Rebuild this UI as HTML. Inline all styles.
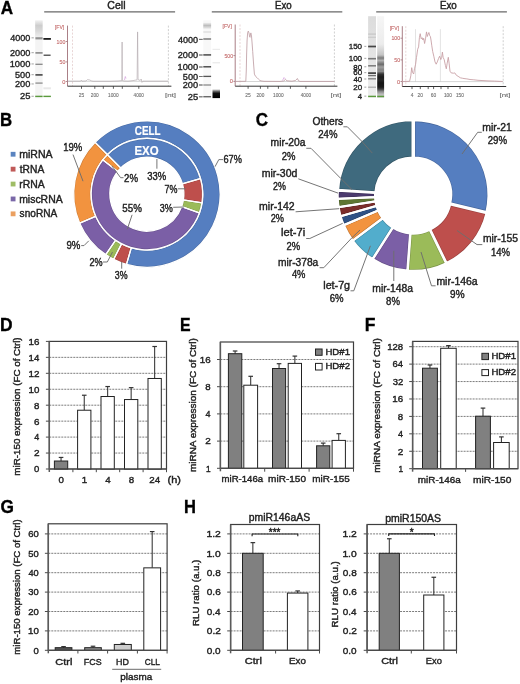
<!DOCTYPE html>
<html><head><meta charset="utf-8"><title>Figure</title>
<style>
html,body{margin:0;padding:0;background:#fff;overflow:hidden;}
svg{display:block;will-change:transform;}
text{font-family:"Liberation Sans", sans-serif;}
</style></head>
<body>
<svg width="520" height="684" viewBox="0 0 520 684">
<rect x="0" y="0" width="520" height="684" fill="#fff"/>
<text x="0.87" y="13.85" font-size="17.745" font-weight="bold" fill="#000" stroke="#000" stroke-width="0.35" textLength="12.34" lengthAdjust="spacingAndGlyphs">A</text>
<text x="-0.02" y="125.60" font-size="17.745" font-weight="bold" fill="#000" stroke="#000" stroke-width="0.35" textLength="12.12" lengthAdjust="spacingAndGlyphs">B</text>
<text x="255.67" y="125.82" font-size="18.375" font-weight="bold" fill="#000" stroke="#000" stroke-width="0.35" textLength="12.24" lengthAdjust="spacingAndGlyphs">C</text>
<text x="-0.06" y="330.70" font-size="18.036" font-weight="bold" fill="#000" stroke="#000" stroke-width="0.35" textLength="12.55" lengthAdjust="spacingAndGlyphs">D</text>
<text x="179.98" y="330.70" font-size="18.036" font-weight="bold" fill="#000" stroke="#000" stroke-width="0.35" textLength="10.60" lengthAdjust="spacingAndGlyphs">E</text>
<text x="364.67" y="330.70" font-size="18.036" font-weight="bold" fill="#000" stroke="#000" stroke-width="0.35" textLength="10.71" lengthAdjust="spacingAndGlyphs">F</text>
<text x="0.61" y="512.72" font-size="17.809" font-weight="bold" fill="#000" stroke="#000" stroke-width="0.35" textLength="13.43" lengthAdjust="spacingAndGlyphs">G</text>
<text x="184.04" y="512.90" font-size="18.036" font-weight="bold" fill="#000" stroke="#000" stroke-width="0.35" textLength="11.92" lengthAdjust="spacingAndGlyphs">H</text>
<text x="107.37" y="9.00" font-size="10.182" font-weight="normal" fill="#222" stroke="#222" stroke-width="0.4" textLength="18.14" lengthAdjust="spacingAndGlyphs">Cell</text>
<line x1="44.20" y1="11.80" x2="175.10" y2="11.80" stroke="#686868" stroke-width="1.3" />
<text x="275.00" y="9.00" font-size="10.182" font-weight="normal" fill="#222" stroke="#222" stroke-width="0.4" textLength="16.69" lengthAdjust="spacingAndGlyphs">Exo</text>
<line x1="211.80" y1="11.80" x2="342.30" y2="11.80" stroke="#686868" stroke-width="1.3" />
<text x="439.89" y="9.00" font-size="10.182" font-weight="normal" fill="#222" stroke="#222" stroke-width="0.4" textLength="16.91" lengthAdjust="spacingAndGlyphs">Exo</text>
<line x1="376.20" y1="11.80" x2="506.90" y2="11.80" stroke="#686868" stroke-width="1.3" />
<defs><linearGradient id="smear1" x1="0" y1="0" x2="0" y2="1"><stop offset="0" stop-color="#f0f0f0"/><stop offset="0.3" stop-color="#cdcdcd"/><stop offset="0.6" stop-color="#d8d8d8"/><stop offset="1" stop-color="#eeeeee"/></linearGradient><linearGradient id="blob2" x1="0" y1="0" x2="0" y2="1"><stop offset="0" stop-color="#e0e0e0"/><stop offset="0.25" stop-color="#606060"/><stop offset="0.45" stop-color="#101010"/><stop offset="1" stop-color="#000"/></linearGradient><linearGradient id="lane3" x1="0" y1="0" x2="0" y2="1"><stop offset="0" stop-color="#dcdcdc"/><stop offset="0.5" stop-color="#e4e4e4"/><stop offset="1" stop-color="#eeeeee"/></linearGradient><linearGradient id="smear3" x1="0" y1="0" x2="0" y2="1"><stop offset="0" stop-color="#c8c8c8"/><stop offset="0.3" stop-color="#8a8a8a"/><stop offset="0.5" stop-color="#262626"/><stop offset="0.85" stop-color="#141414"/><stop offset="1" stop-color="#606060"/></linearGradient><linearGradient id="top3" x1="0" y1="0" x2="0" y2="1"><stop offset="0" stop-color="#e6e6e6"/><stop offset="1" stop-color="#c4c4c4"/></linearGradient></defs>
<text x="10.20" y="40.95" font-size="9.018" font-weight="normal" fill="#222222" stroke="#222222" stroke-width="0.34" textLength="20.16" lengthAdjust="spacingAndGlyphs">4000</text>
<line x1="31.50" y1="37.85" x2="33.80" y2="37.85" stroke="#999" stroke-width="0.9" />
<text x="9.94" y="55.80" font-size="9.018" font-weight="normal" fill="#222222" stroke="#222222" stroke-width="0.34" textLength="20.42" lengthAdjust="spacingAndGlyphs">2000</text>
<line x1="31.50" y1="52.70" x2="33.80" y2="52.70" stroke="#999" stroke-width="0.9" />
<text x="9.70" y="67.05" font-size="9.018" font-weight="normal" fill="#222222" stroke="#222222" stroke-width="0.34" textLength="20.67" lengthAdjust="spacingAndGlyphs">1000</text>
<line x1="31.50" y1="63.95" x2="33.80" y2="63.95" stroke="#999" stroke-width="0.9" />
<text x="15.03" y="77.80" font-size="9.018" font-weight="normal" fill="#222222" stroke="#222222" stroke-width="0.34" textLength="15.32" lengthAdjust="spacingAndGlyphs">500</text>
<line x1="31.50" y1="74.70" x2="33.80" y2="74.70" stroke="#999" stroke-width="0.9" />
<text x="14.94" y="87.05" font-size="9.018" font-weight="normal" fill="#222222" stroke="#222222" stroke-width="0.34" textLength="15.42" lengthAdjust="spacingAndGlyphs">200</text>
<line x1="31.50" y1="83.95" x2="33.80" y2="83.95" stroke="#999" stroke-width="0.9" />
<text x="19.93" y="99.35" font-size="9.018" font-weight="normal" fill="#222222" stroke="#222222" stroke-width="0.34" textLength="10.47" lengthAdjust="spacingAndGlyphs">25</text>
<line x1="31.50" y1="96.25" x2="33.80" y2="96.25" stroke="#999" stroke-width="0.9" />
<rect x="35.20" y="20.30" width="7.40" height="78.00" fill="#f4f4f4" stroke="none" stroke-width="1" />
<rect x="35.20" y="20.60" width="7.40" height="16.50" fill="url(#smear1)" stroke="none" stroke-width="1" />
<rect x="35.40" y="37.20" width="7.20" height="2.20" fill="#929292" stroke="none" stroke-width="1" opacity="1.0"/>
<rect x="35.40" y="52.20" width="7.20" height="1.40" fill="#7a7a7a" stroke="none" stroke-width="1" opacity="1.0"/>
<rect x="35.40" y="63.65" width="7.20" height="1.30" fill="#888888" stroke="none" stroke-width="1" opacity="1.0"/>
<rect x="35.40" y="74.10" width="7.20" height="1.60" fill="#454545" stroke="none" stroke-width="1" opacity="1.0"/>
<rect x="35.40" y="82.45" width="7.20" height="1.30" fill="#8e8e8e" stroke="none" stroke-width="1" opacity="1.0"/>
<rect x="35.20" y="95.70" width="7.40" height="1.40" fill="#5a9a3c" stroke="none" stroke-width="1" opacity="1.0"/>
<rect x="43.40" y="38.00" width="7.50" height="1.80" fill="#1c1c1c" stroke="none" stroke-width="1" opacity="1.0"/>
<rect x="43.60" y="54.60" width="7.00" height="1.20" fill="#383838" stroke="none" stroke-width="1" opacity="1.0"/>
<rect x="43.40" y="87.30" width="7.50" height="2.00" fill="#e8e8e8" stroke="none" stroke-width="1" opacity="1.0"/>
<rect x="43.40" y="95.70" width="7.50" height="1.40" fill="#5a9a3c" stroke="none" stroke-width="1" opacity="1.0"/>
<line x1="72.50" y1="25.60" x2="72.50" y2="86.20" stroke="#e0c4c4" stroke-width="0.7" stroke-dasharray="2,1.5"/>
<line x1="168.40" y1="25.60" x2="168.40" y2="86.20" stroke="#bcbcbc" stroke-width="0.7" stroke-dasharray="2,1.5"/>
<line x1="67.50" y1="81.30" x2="168.40" y2="81.30" stroke="#b8b8b8" stroke-width="0.6" />
<line x1="67.50" y1="25.60" x2="67.50" y2="86.20" stroke="#a07078" stroke-width="0.9" />
<line x1="67.50" y1="86.20" x2="171.40" y2="86.20" stroke="#333" stroke-width="1.0" />
<text x="54.83" y="29.40" font-size="5.527" font-weight="normal" fill="#c46a6a" stroke="#c46a6a" stroke-width="0.12" textLength="9.44" lengthAdjust="spacingAndGlyphs">[FV]</text>
<text x="56.61" y="43.50" font-size="5.818" font-weight="normal" fill="#c46a6a" stroke="#c46a6a" stroke-width="0.12" textLength="8.69" lengthAdjust="spacingAndGlyphs">100</text>
<line x1="65.70" y1="41.50" x2="67.50" y2="41.50" stroke="#a07078" stroke-width="0.8" />
<text x="59.49" y="63.90" font-size="5.818" font-weight="normal" fill="#c46a6a" stroke="#c46a6a" stroke-width="0.12" textLength="5.82" lengthAdjust="spacingAndGlyphs">50</text>
<line x1="65.70" y1="61.90" x2="67.50" y2="61.90" stroke="#a07078" stroke-width="0.8" />
<text x="62.17" y="83.50" font-size="5.818" font-weight="normal" fill="#c46a6a" stroke="#c46a6a" stroke-width="0.12" textLength="3.14" lengthAdjust="spacingAndGlyphs">0</text>
<line x1="65.70" y1="81.50" x2="67.50" y2="81.50" stroke="#a07078" stroke-width="0.8" />
<line x1="81.50" y1="86.20" x2="81.50" y2="88.80" stroke="#333" stroke-width="0.8" />
<line x1="94.80" y1="86.20" x2="94.80" y2="88.80" stroke="#333" stroke-width="0.8" />
<line x1="103.30" y1="86.20" x2="103.30" y2="88.80" stroke="#333" stroke-width="0.8" />
<line x1="113.40" y1="86.20" x2="113.40" y2="88.80" stroke="#333" stroke-width="0.8" />
<line x1="122.30" y1="86.20" x2="122.30" y2="88.80" stroke="#333" stroke-width="0.8" />
<line x1="138.80" y1="86.20" x2="138.80" y2="88.80" stroke="#333" stroke-width="0.8" />
<text x="78.75" y="96.90" font-size="5.818" font-weight="normal" fill="#707070" stroke="#707070" stroke-width="0.12" textLength="5.45" lengthAdjust="spacingAndGlyphs">25</text>
<text x="90.81" y="96.90" font-size="5.818" font-weight="normal" fill="#707070" stroke="#707070" stroke-width="0.12" textLength="7.92" lengthAdjust="spacingAndGlyphs">200</text>
<text x="108.04" y="96.90" font-size="5.818" font-weight="normal" fill="#707070" stroke="#707070" stroke-width="0.12" textLength="10.54" lengthAdjust="spacingAndGlyphs">1000</text>
<text x="133.60" y="96.90" font-size="5.818" font-weight="normal" fill="#707070" stroke="#707070" stroke-width="0.12" textLength="10.29" lengthAdjust="spacingAndGlyphs">4000</text>
<text x="164.92" y="96.90" font-size="5.818" font-weight="normal" fill="#707070" stroke="#707070" stroke-width="0.12" textLength="11.14" lengthAdjust="spacingAndGlyphs">[nt]</text>
<polyline points="67.50,81.20 80.50,81.20 81.30,80.20 82.00,81.20 86.00,81.00 87.50,79.60 89.50,79.90 91.50,80.90 93.00,81.30 110.00,81.30 118.00,81.00 121.80,80.60 122.10,42.00 122.40,80.60 124.00,81.00 128.00,81.20 133.00,80.60 137.10,79.80 137.60,31.90 138.10,79.60 140.20,80.40 141.20,79.00 142.00,82.40 143.00,81.20 168.40,81.20" fill="none" stroke="#ada2a8" stroke-width="0.6" stroke-linejoin="round" />
<polyline points="124.50,80.00 125.30,76.50 126.00,78.50" fill="none" stroke="#d8a8e0" stroke-width="0.8" stroke-linejoin="round" />
<text x="178.00" y="42.50" font-size="9.018" font-weight="normal" fill="#222222" stroke="#222222" stroke-width="0.34" textLength="20.16" lengthAdjust="spacingAndGlyphs">4000</text>
<line x1="199.00" y1="39.40" x2="202.60" y2="39.40" stroke="#999" stroke-width="0.9" />
<text x="177.74" y="58.10" font-size="9.018" font-weight="normal" fill="#222222" stroke="#222222" stroke-width="0.34" textLength="20.42" lengthAdjust="spacingAndGlyphs">2000</text>
<line x1="199.00" y1="55.00" x2="202.60" y2="55.00" stroke="#999" stroke-width="0.9" />
<text x="177.50" y="70.10" font-size="9.018" font-weight="normal" fill="#222222" stroke="#222222" stroke-width="0.34" textLength="20.67" lengthAdjust="spacingAndGlyphs">1000</text>
<line x1="199.00" y1="67.00" x2="202.60" y2="67.00" stroke="#999" stroke-width="0.9" />
<text x="182.83" y="79.60" font-size="9.018" font-weight="normal" fill="#222222" stroke="#222222" stroke-width="0.34" textLength="15.32" lengthAdjust="spacingAndGlyphs">500</text>
<line x1="199.00" y1="76.50" x2="202.60" y2="76.50" stroke="#999" stroke-width="0.9" />
<text x="182.74" y="88.10" font-size="9.018" font-weight="normal" fill="#222222" stroke="#222222" stroke-width="0.34" textLength="15.42" lengthAdjust="spacingAndGlyphs">200</text>
<line x1="199.00" y1="85.00" x2="202.60" y2="85.00" stroke="#999" stroke-width="0.9" />
<text x="187.73" y="99.90" font-size="9.018" font-weight="normal" fill="#222222" stroke="#222222" stroke-width="0.34" textLength="10.47" lengthAdjust="spacingAndGlyphs">25</text>
<line x1="199.00" y1="96.80" x2="202.60" y2="96.80" stroke="#999" stroke-width="0.9" />
<line x1="199.00" y1="39.40" x2="202.60" y2="39.40" stroke="#707070" stroke-width="1.0" />
<line x1="199.00" y1="55.00" x2="202.60" y2="55.00" stroke="#707070" stroke-width="1.0" />
<line x1="199.00" y1="67.00" x2="202.60" y2="67.00" stroke="#707070" stroke-width="1.0" />
<line x1="199.00" y1="76.50" x2="202.60" y2="76.50" stroke="#707070" stroke-width="1.0" />
<line x1="199.00" y1="85.00" x2="202.60" y2="85.00" stroke="#707070" stroke-width="1.0" />
<line x1="199.00" y1="96.80" x2="202.60" y2="96.80" stroke="#707070" stroke-width="1.0" />
<rect x="203.30" y="20.30" width="7.80" height="78.00" fill="#f8f8f8" stroke="none" stroke-width="1" />
<defs><linearGradient id="sm2" x1="0" y1="0" x2="0" y2="1"><stop offset="0" stop-color="#eeeeee"/><stop offset="0.45" stop-color="#bdbdbd"/><stop offset="1" stop-color="#ececec"/></linearGradient></defs>
<rect x="203.30" y="22.80" width="7.80" height="6.00" fill="url(#sm2)" stroke="none" stroke-width="1" />
<rect x="203.30" y="31.20" width="7.80" height="1.60" fill="#e2e2e2" stroke="none" stroke-width="1" opacity="1.0"/>
<rect x="203.30" y="38.00" width="7.80" height="2.00" fill="#9a9a9a" stroke="none" stroke-width="1" opacity="1.0"/>
<rect x="203.30" y="54.10" width="7.80" height="1.60" fill="#555555" stroke="none" stroke-width="1" opacity="1.0"/>
<rect x="203.30" y="66.10" width="7.80" height="1.40" fill="#444444" stroke="none" stroke-width="1" opacity="1.0"/>
<rect x="203.30" y="75.75" width="7.80" height="1.30" fill="#555555" stroke="none" stroke-width="1" opacity="1.0"/>
<rect x="203.30" y="84.35" width="7.80" height="1.30" fill="#8a8a8a" stroke="none" stroke-width="1" opacity="1.0"/>
<rect x="203.30" y="96.00" width="7.80" height="1.40" fill="#6a6a6a" stroke="none" stroke-width="1" opacity="1.0"/>
<rect x="212.50" y="48.80" width="7.50" height="1.00" fill="#e8e8e8" stroke="none" stroke-width="1" opacity="1.0"/>
<rect x="212.50" y="62.30" width="7.50" height="1.00" fill="#e4e4e4" stroke="none" stroke-width="1" opacity="1.0"/>
<rect x="212.50" y="89.30" width="7.50" height="8.80" fill="url(#blob2)" stroke="none" stroke-width="1" />
<line x1="240.00" y1="24.50" x2="240.00" y2="86.20" stroke="#e0c4c4" stroke-width="0.7" stroke-dasharray="2,1.5"/>
<line x1="334.40" y1="24.50" x2="334.40" y2="86.20" stroke="#bcbcbc" stroke-width="0.7" stroke-dasharray="2,1.5"/>
<line x1="235.20" y1="81.50" x2="334.40" y2="81.50" stroke="#b8b8b8" stroke-width="0.6" />
<line x1="235.20" y1="24.50" x2="235.20" y2="86.20" stroke="#a07078" stroke-width="0.9" />
<line x1="235.20" y1="86.20" x2="337.40" y2="86.20" stroke="#333" stroke-width="1.0" />
<text x="222.53" y="28.30" font-size="5.527" font-weight="normal" fill="#c46a6a" stroke="#c46a6a" stroke-width="0.12" textLength="9.44" lengthAdjust="spacingAndGlyphs">[FV]</text>
<text x="224.50" y="57.60" font-size="5.818" font-weight="normal" fill="#c46a6a" stroke="#c46a6a" stroke-width="0.12" textLength="8.50" lengthAdjust="spacingAndGlyphs">500</text>
<line x1="233.40" y1="55.60" x2="235.20" y2="55.60" stroke="#a07078" stroke-width="0.8" />
<text x="229.87" y="83.40" font-size="5.818" font-weight="normal" fill="#c46a6a" stroke="#c46a6a" stroke-width="0.12" textLength="3.14" lengthAdjust="spacingAndGlyphs">0</text>
<line x1="233.40" y1="81.40" x2="235.20" y2="81.40" stroke="#a07078" stroke-width="0.8" />
<line x1="248.10" y1="86.20" x2="248.10" y2="88.80" stroke="#333" stroke-width="0.8" />
<line x1="260.40" y1="86.20" x2="260.40" y2="88.80" stroke="#333" stroke-width="0.8" />
<line x1="267.80" y1="86.20" x2="267.80" y2="88.80" stroke="#333" stroke-width="0.8" />
<line x1="278.40" y1="86.20" x2="278.40" y2="88.80" stroke="#333" stroke-width="0.8" />
<line x1="290.40" y1="86.20" x2="290.40" y2="88.80" stroke="#333" stroke-width="0.8" />
<line x1="305.90" y1="86.20" x2="305.90" y2="88.80" stroke="#333" stroke-width="0.8" />
<text x="245.35" y="96.90" font-size="5.818" font-weight="normal" fill="#707070" stroke="#707070" stroke-width="0.12" textLength="5.45" lengthAdjust="spacingAndGlyphs">25</text>
<text x="256.41" y="96.90" font-size="5.818" font-weight="normal" fill="#707070" stroke="#707070" stroke-width="0.12" textLength="7.92" lengthAdjust="spacingAndGlyphs">200</text>
<text x="273.04" y="96.90" font-size="5.818" font-weight="normal" fill="#707070" stroke="#707070" stroke-width="0.12" textLength="10.54" lengthAdjust="spacingAndGlyphs">1000</text>
<text x="300.80" y="96.90" font-size="5.818" font-weight="normal" fill="#707070" stroke="#707070" stroke-width="0.12" textLength="10.29" lengthAdjust="spacingAndGlyphs">4000</text>
<text x="330.42" y="96.90" font-size="5.818" font-weight="normal" fill="#707070" stroke="#707070" stroke-width="0.12" textLength="11.14" lengthAdjust="spacingAndGlyphs">[nt]</text>
<polyline points="235.20,81.40 245.80,81.30 246.30,70.00 246.60,55.00 247.10,40.00 247.70,32.50 248.30,31.10 249.00,33.00 249.60,36.80 250.00,37.30 250.50,34.00 250.90,32.90 251.50,36.00 252.00,42.00 252.70,51.30 253.50,63.00 254.40,74.10 255.50,76.30 257.00,77.60 258.50,79.20 259.70,80.30 261.00,80.90 264.00,81.30 280.00,81.40 283.50,81.00 285.50,79.50 287.00,80.80 292.00,81.20 295.50,80.50 297.40,78.50 298.50,80.80 300.00,81.40 334.40,81.40" fill="none" stroke="#bf9ea4" stroke-width="0.85" stroke-linejoin="round" />
<polyline points="282.50,80.50 284.00,77.50 285.50,79.00" fill="none" stroke="#d8a8e0" stroke-width="0.8" stroke-linejoin="round" />
<text x="348.70" y="49.10" font-size="8.000" font-weight="normal" fill="#222222" stroke="#222222" stroke-width="0.34" textLength="13.41" lengthAdjust="spacingAndGlyphs">150</text>
<line x1="364.30" y1="46.35" x2="366.30" y2="46.35" stroke="#999" stroke-width="0.9" />
<text x="348.70" y="61.10" font-size="8.000" font-weight="normal" fill="#222222" stroke="#222222" stroke-width="0.34" textLength="13.41" lengthAdjust="spacingAndGlyphs">100</text>
<line x1="364.30" y1="58.35" x2="366.30" y2="58.35" stroke="#999" stroke-width="0.9" />
<text x="353.26" y="69.55" font-size="8.000" font-weight="normal" fill="#222222" stroke="#222222" stroke-width="0.34" textLength="8.86" lengthAdjust="spacingAndGlyphs">80</text>
<line x1="364.30" y1="66.80" x2="366.30" y2="66.80" stroke="#999" stroke-width="0.9" />
<text x="353.20" y="75.40" font-size="8.000" font-weight="normal" fill="#222222" stroke="#222222" stroke-width="0.34" textLength="8.92" lengthAdjust="spacingAndGlyphs">60</text>
<line x1="364.30" y1="72.65" x2="366.30" y2="72.65" stroke="#999" stroke-width="0.9" />
<text x="353.42" y="81.75" font-size="8.000" font-weight="normal" fill="#222222" stroke="#222222" stroke-width="0.34" textLength="8.69" lengthAdjust="spacingAndGlyphs">40</text>
<line x1="364.30" y1="79.00" x2="366.30" y2="79.00" stroke="#999" stroke-width="0.9" />
<text x="353.20" y="89.90" font-size="8.000" font-weight="normal" fill="#222222" stroke="#222222" stroke-width="0.34" textLength="8.92" lengthAdjust="spacingAndGlyphs">20</text>
<line x1="364.30" y1="87.15" x2="366.30" y2="87.15" stroke="#999" stroke-width="0.9" />
<text x="357.73" y="98.90" font-size="8.000" font-weight="normal" fill="#222222" stroke="#222222" stroke-width="0.34" textLength="4.30" lengthAdjust="spacingAndGlyphs">4</text>
<line x1="364.30" y1="96.15" x2="366.30" y2="96.15" stroke="#999" stroke-width="0.9" />
<rect x="368.10" y="16.20" width="7.90" height="81.80" fill="url(#lane3)" stroke="none" stroke-width="1" />
<rect x="368.10" y="33.45" width="7.90" height="1.30" fill="#c8c8c8" stroke="none" stroke-width="1" opacity="1.0"/>
<rect x="368.10" y="36.65" width="7.90" height="1.30" fill="#cccccc" stroke="none" stroke-width="1" opacity="1.0"/>
<rect x="368.10" y="45.65" width="7.90" height="1.70" fill="#464646" stroke="none" stroke-width="1" opacity="1.0"/>
<rect x="368.10" y="57.90" width="7.90" height="1.60" fill="#787878" stroke="none" stroke-width="1" opacity="1.0"/>
<rect x="368.10" y="65.05" width="7.90" height="1.50" fill="#7a7a7a" stroke="none" stroke-width="1" opacity="1.0"/>
<rect x="368.10" y="72.30" width="7.90" height="1.60" fill="#363636" stroke="none" stroke-width="1" opacity="1.0"/>
<rect x="368.10" y="74.95" width="7.90" height="1.30" fill="#707070" stroke="none" stroke-width="1" opacity="1.0"/>
<rect x="368.10" y="78.10" width="7.90" height="1.40" fill="#848484" stroke="none" stroke-width="1" opacity="1.0"/>
<rect x="368.10" y="86.60" width="7.90" height="1.20" fill="#a8a8a8" stroke="none" stroke-width="1" opacity="1.0"/>
<rect x="368.10" y="95.70" width="7.90" height="1.40" fill="#5a9a3c" stroke="none" stroke-width="1" opacity="1.0"/>
<defs><linearGradient id="samp3" gradientUnits="userSpaceOnUse" x1="0" y1="16" x2="0" y2="98"><stop offset="0.0000" stop-color="#f6f6f6"/><stop offset="0.3415" stop-color="#ececec"/><stop offset="0.4146" stop-color="#d6d6d6"/><stop offset="0.4756" stop-color="#c4c4c4"/><stop offset="0.5122" stop-color="#7a7a7a"/><stop offset="0.5427" stop-color="#b0b0b0"/><stop offset="0.5890" stop-color="#6a6a6a"/><stop offset="0.6220" stop-color="#a0a0a0"/><stop offset="0.6500" stop-color="#888888"/><stop offset="0.6768" stop-color="#8a8a8a"/><stop offset="0.6963" stop-color="#505050"/><stop offset="0.7134" stop-color="#303030"/><stop offset="0.7439" stop-color="#1c1c1c"/><stop offset="0.7805" stop-color="#262626"/><stop offset="0.8171" stop-color="#141414"/><stop offset="0.8659" stop-color="#1a1a1a"/><stop offset="0.8902" stop-color="#3c3c3c"/><stop offset="0.9207" stop-color="#888888"/><stop offset="0.9512" stop-color="#b8b8b8"/><stop offset="1.0000" stop-color="#d8d8d8"/></linearGradient></defs>
<rect x="377.20" y="16.20" width="6.90" height="81.80" fill="url(#samp3)" stroke="none" stroke-width="1" />
<rect x="377.20" y="95.70" width="6.90" height="1.40" fill="#5a9a3c" stroke="none" stroke-width="1" opacity="1.0"/>
<line x1="405.80" y1="26.20" x2="405.80" y2="86.50" stroke="#e0c4c4" stroke-width="0.7" stroke-dasharray="2,1.5"/>
<line x1="503.20" y1="26.20" x2="503.20" y2="86.50" stroke="#bcbcbc" stroke-width="0.7" stroke-dasharray="2,1.5"/>
<line x1="415.50" y1="29.20" x2="415.50" y2="81.60" stroke="#d0d0d0" stroke-width="0.6" />
<line x1="440.40" y1="29.20" x2="440.40" y2="81.60" stroke="#d0d0d0" stroke-width="0.6" />
<line x1="402.30" y1="81.60" x2="503.20" y2="81.60" stroke="#b8b8b8" stroke-width="0.6" />
<line x1="402.30" y1="26.20" x2="402.30" y2="86.50" stroke="#a07078" stroke-width="0.9" />
<line x1="402.30" y1="86.50" x2="506.20" y2="86.50" stroke="#333" stroke-width="1.0" />
<text x="389.63" y="30.00" font-size="5.527" font-weight="normal" fill="#c46a6a" stroke="#c46a6a" stroke-width="0.12" textLength="9.44" lengthAdjust="spacingAndGlyphs">[FV]</text>
<text x="391.41" y="40.20" font-size="5.818" font-weight="normal" fill="#c46a6a" stroke="#c46a6a" stroke-width="0.12" textLength="8.69" lengthAdjust="spacingAndGlyphs">100</text>
<line x1="400.50" y1="38.20" x2="402.30" y2="38.20" stroke="#a07078" stroke-width="0.8" />
<text x="394.29" y="61.90" font-size="5.818" font-weight="normal" fill="#c46a6a" stroke="#c46a6a" stroke-width="0.12" textLength="5.82" lengthAdjust="spacingAndGlyphs">50</text>
<line x1="400.50" y1="59.90" x2="402.30" y2="59.90" stroke="#a07078" stroke-width="0.8" />
<text x="396.97" y="83.50" font-size="5.818" font-weight="normal" fill="#c46a6a" stroke="#c46a6a" stroke-width="0.12" textLength="3.14" lengthAdjust="spacingAndGlyphs">0</text>
<line x1="400.50" y1="81.50" x2="402.30" y2="81.50" stroke="#a07078" stroke-width="0.8" />
<line x1="412.00" y1="86.50" x2="412.00" y2="89.10" stroke="#333" stroke-width="0.8" />
<line x1="420.30" y1="86.50" x2="420.30" y2="89.10" stroke="#333" stroke-width="0.8" />
<line x1="428.20" y1="86.50" x2="428.20" y2="89.10" stroke="#333" stroke-width="0.8" />
<line x1="433.60" y1="86.50" x2="433.60" y2="89.10" stroke="#333" stroke-width="0.8" />
<line x1="441.00" y1="86.50" x2="441.00" y2="89.10" stroke="#333" stroke-width="0.8" />
<line x1="448.00" y1="86.50" x2="448.00" y2="89.10" stroke="#333" stroke-width="0.8" />
<line x1="460.00" y1="86.50" x2="460.00" y2="89.10" stroke="#333" stroke-width="0.8" />
<text x="410.64" y="97.20" font-size="5.818" font-weight="normal" fill="#707070" stroke="#707070" stroke-width="0.12" textLength="2.75" lengthAdjust="spacingAndGlyphs">4</text>
<text x="417.56" y="97.20" font-size="5.818" font-weight="normal" fill="#707070" stroke="#707070" stroke-width="0.12" textLength="5.44" lengthAdjust="spacingAndGlyphs">20</text>
<text x="430.76" y="97.20" font-size="5.818" font-weight="normal" fill="#707070" stroke="#707070" stroke-width="0.12" textLength="5.44" lengthAdjust="spacingAndGlyphs">60</text>
<text x="443.89" y="97.20" font-size="5.818" font-weight="normal" fill="#707070" stroke="#707070" stroke-width="0.12" textLength="8.05" lengthAdjust="spacingAndGlyphs">100</text>
<text x="455.89" y="97.20" font-size="5.818" font-weight="normal" fill="#707070" stroke="#707070" stroke-width="0.12" textLength="8.05" lengthAdjust="spacingAndGlyphs">150</text>
<text x="499.42" y="97.20" font-size="5.818" font-weight="normal" fill="#707070" stroke="#707070" stroke-width="0.12" textLength="11.14" lengthAdjust="spacingAndGlyphs">[nt]</text>
<polyline points="402.30,81.50 409.60,81.30 410.80,75.80 411.70,67.70 412.50,72.30 413.70,74.00 414.50,68.80 415.60,64.20 416.50,57.30 417.70,49.20 418.60,46.90 419.40,37.70 420.20,33.70 421.20,38.80 422.10,37.70 422.90,40.00 423.70,38.30 424.60,43.50 425.50,38.80 426.50,31.90 427.30,36.50 428.10,34.20 428.90,32.50 429.60,35.40 430.40,36.50 431.00,40.00 431.80,45.80 432.70,51.50 433.80,56.20 435.00,61.90 436.20,64.20 437.30,61.90 438.50,58.50 439.60,56.20 440.80,59.60 441.70,57.30 442.40,52.10 443.10,57.30 444.20,59.60 445.40,65.40 446.30,68.80 447.20,63.10 448.30,57.30 449.10,63.10 450.00,71.20 451.20,72.90 453.50,73.20 454.80,72.90 456.30,75.20 458.10,76.30 460.40,77.80 462.70,78.30 465.00,78.70 466.90,78.90 470.00,79.50 473.80,79.80 478.00,80.30 483.00,80.60 488.00,80.90 494.60,81.10 502.70,81.50" fill="none" stroke="#c8a0a6" stroke-width="0.9" stroke-linejoin="round" />
<rect x="10.70" y="151.85" width="4.80" height="4.80" fill="#5a84c0" stroke="none" stroke-width="1" />
<text x="19.19" y="157.85" font-size="10.473" font-weight="normal" fill="#222222" stroke="#222222" stroke-width="0.4" textLength="33.43" lengthAdjust="spacingAndGlyphs">miRNA</text>
<rect x="10.70" y="166.75" width="4.80" height="4.80" fill="#c05a58" stroke="none" stroke-width="1" />
<text x="19.75" y="172.75" font-size="10.473" font-weight="normal" fill="#222222" stroke="#222222" stroke-width="0.4" textLength="24.47" lengthAdjust="spacingAndGlyphs">tRNA</text>
<rect x="10.70" y="181.65" width="4.80" height="4.80" fill="#9fbd66" stroke="none" stroke-width="1" />
<text x="19.20" y="187.65" font-size="10.473" font-weight="normal" fill="#222222" stroke="#222222" stroke-width="0.4" textLength="25.42" lengthAdjust="spacingAndGlyphs">rRNA</text>
<rect x="10.70" y="196.55" width="4.80" height="4.80" fill="#7a68a8" stroke="none" stroke-width="1" />
<text x="19.20" y="202.55" font-size="10.473" font-weight="normal" fill="#222222" stroke="#222222" stroke-width="0.4" textLength="43.42" lengthAdjust="spacingAndGlyphs">miscRNA</text>
<rect x="10.70" y="211.45" width="4.80" height="4.80" fill="#eba060" stroke="none" stroke-width="1" />
<text x="19.62" y="217.45" font-size="10.473" font-weight="normal" fill="#222222" stroke="#222222" stroke-width="0.4" textLength="37.59" lengthAdjust="spacingAndGlyphs">snoRNA</text>
<clipPath id="dcp1"><path d="M95.14,142.34 A73.2,73.2 0 1 1 126.48,264.39 L131.30,247.78 A55.9,55.9 0 1 0 107.37,154.57 Z"/></clipPath>
<path d="M95.14,142.34 A73.2,73.2 0 1 1 126.48,264.39 L131.30,247.78 A55.9,55.9 0 1 0 107.37,154.57 Z" fill="#557ec0" stroke="#486ba3" stroke-width="2.40" clip-path="url(#dcp1)"/>
<clipPath id="dcp2"><path d="M126.48,264.39 A73.2,73.2 0 0 1 113.67,259.32 L121.52,243.91 A55.9,55.9 0 0 0 131.30,247.78 Z"/></clipPath>
<path d="M126.48,264.39 A73.2,73.2 0 0 1 113.67,259.32 L121.52,243.91 A55.9,55.9 0 0 0 131.30,247.78 Z" fill="#be4f4c" stroke="#a14340" stroke-width="2.40" clip-path="url(#dcp2)"/>
<clipPath id="dcp3"><path d="M113.67,259.32 A73.2,73.2 0 0 1 105.76,254.64 L115.48,240.33 A55.9,55.9 0 0 0 121.52,243.91 Z"/></clipPath>
<path d="M113.67,259.32 A73.2,73.2 0 0 1 105.76,254.64 L115.48,240.33 A55.9,55.9 0 0 0 121.52,243.91 Z" fill="#9bbb59" stroke="#839e4b" stroke-width="2.40" clip-path="url(#dcp3)"/>
<clipPath id="dcp4"><path d="M105.76,254.64 A73.2,73.2 0 0 1 79.72,223.17 L95.60,216.30 A55.9,55.9 0 0 0 115.48,240.33 Z"/></clipPath>
<path d="M105.76,254.64 A73.2,73.2 0 0 1 79.72,223.17 L95.60,216.30 A55.9,55.9 0 0 0 115.48,240.33 Z" fill="#7b5fa6" stroke="#68508d" stroke-width="2.40" clip-path="url(#dcp4)"/>
<clipPath id="dcp5"><path d="M79.72,223.17 A73.2,73.2 0 0 1 95.14,142.34 L107.37,154.57 A55.9,55.9 0 0 0 95.60,216.30 Z"/></clipPath>
<path d="M79.72,223.17 A73.2,73.2 0 0 1 95.14,142.34 L107.37,154.57 A55.9,55.9 0 0 0 95.60,216.30 Z" fill="#f2933f" stroke="#cd7c35" stroke-width="2.40" clip-path="url(#dcp5)"/>
<path d="M95.14,142.34 A73.2,73.2 0 1 1 126.48,264.39 L131.30,247.78 A55.9,55.9 0 1 0 107.37,154.57 Z" fill="none" stroke="#fff" stroke-width="1.3"/>
<path d="M126.48,264.39 A73.2,73.2 0 0 1 113.67,259.32 L121.52,243.91 A55.9,55.9 0 0 0 131.30,247.78 Z" fill="none" stroke="#fff" stroke-width="1.3"/>
<path d="M113.67,259.32 A73.2,73.2 0 0 1 105.76,254.64 L115.48,240.33 A55.9,55.9 0 0 0 121.52,243.91 Z" fill="none" stroke="#fff" stroke-width="1.3"/>
<path d="M105.76,254.64 A73.2,73.2 0 0 1 79.72,223.17 L95.60,216.30 A55.9,55.9 0 0 0 115.48,240.33 Z" fill="none" stroke="#fff" stroke-width="1.3"/>
<path d="M79.72,223.17 A73.2,73.2 0 0 1 95.14,142.34 L107.37,154.57 A55.9,55.9 0 0 0 95.60,216.30 Z" fill="none" stroke="#fff" stroke-width="1.3"/>
<clipPath id="dcp6"><path d="M107.51,154.71 A55.7,55.7 0 0 1 200.39,178.56 L182.43,183.78 A37.0,37.0 0 0 0 120.74,167.94 Z"/></clipPath>
<path d="M107.51,154.71 A55.7,55.7 0 0 1 200.39,178.56 L182.43,183.78 A37.0,37.0 0 0 0 120.74,167.94 Z" fill="#557ec0" stroke="#486ba3" stroke-width="2.40" clip-path="url(#dcp6)"/>
<clipPath id="dcp7"><path d="M200.39,178.56 A55.7,55.7 0 0 1 201.91,202.81 L183.44,199.89 A37.0,37.0 0 0 0 182.43,183.78 Z"/></clipPath>
<path d="M200.39,178.56 A55.7,55.7 0 0 1 201.91,202.81 L183.44,199.89 A37.0,37.0 0 0 0 182.43,183.78 Z" fill="#be4f4c" stroke="#a14340" stroke-width="2.40" clip-path="url(#dcp7)"/>
<clipPath id="dcp8"><path d="M201.91,202.81 A55.7,55.7 0 0 1 199.31,212.97 L181.71,206.63 A37.0,37.0 0 0 0 183.44,199.89 Z"/></clipPath>
<path d="M201.91,202.81 A55.7,55.7 0 0 1 199.31,212.97 L181.71,206.63 A37.0,37.0 0 0 0 183.44,199.89 Z" fill="#9bbb59" stroke="#839e4b" stroke-width="2.40" clip-path="url(#dcp8)"/>
<clipPath id="dcp9"><path d="M199.31,212.97 A55.7,55.7 0 1 1 102.89,159.96 L117.66,171.42 A37.0,37.0 0 1 0 181.71,206.63 Z"/></clipPath>
<path d="M199.31,212.97 A55.7,55.7 0 1 1 102.89,159.96 L117.66,171.42 A37.0,37.0 0 1 0 181.71,206.63 Z" fill="#7b5fa6" stroke="#68508d" stroke-width="2.40" clip-path="url(#dcp9)"/>
<clipPath id="dcp10"><path d="M102.89,159.96 A55.7,55.7 0 0 1 107.51,154.71 L120.74,167.94 A37.0,37.0 0 0 0 117.66,171.42 Z"/></clipPath>
<path d="M102.89,159.96 A55.7,55.7 0 0 1 107.51,154.71 L120.74,167.94 A37.0,37.0 0 0 0 117.66,171.42 Z" fill="#f2933f" stroke="#cd7c35" stroke-width="2.40" clip-path="url(#dcp10)"/>
<path d="M107.51,154.71 A55.7,55.7 0 0 1 200.39,178.56 L182.43,183.78 A37.0,37.0 0 0 0 120.74,167.94 Z" fill="none" stroke="#fff" stroke-width="1.3"/>
<path d="M200.39,178.56 A55.7,55.7 0 0 1 201.91,202.81 L183.44,199.89 A37.0,37.0 0 0 0 182.43,183.78 Z" fill="none" stroke="#fff" stroke-width="1.3"/>
<path d="M201.91,202.81 A55.7,55.7 0 0 1 199.31,212.97 L181.71,206.63 A37.0,37.0 0 0 0 183.44,199.89 Z" fill="none" stroke="#fff" stroke-width="1.3"/>
<path d="M199.31,212.97 A55.7,55.7 0 1 1 102.89,159.96 L117.66,171.42 A37.0,37.0 0 1 0 181.71,206.63 Z" fill="none" stroke="#fff" stroke-width="1.3"/>
<path d="M102.89,159.96 A55.7,55.7 0 0 1 107.51,154.71 L120.74,167.94 A37.0,37.0 0 0 0 117.66,171.42 Z" fill="none" stroke="#fff" stroke-width="1.3"/>
<text x="134.81" y="134.50" font-size="12.509" font-weight="bold" fill="#fff" stroke="#fff" stroke-width="0.2" textLength="25.70" lengthAdjust="spacingAndGlyphs">CELL</text>
<text x="134.43" y="155.15" font-size="12.509" font-weight="bold" fill="#fff" stroke="#fff" stroke-width="0.2" textLength="24.15" lengthAdjust="spacingAndGlyphs">EXO</text>
<text x="223.44" y="163.20" font-size="10.473" font-weight="normal" fill="#222222" stroke="#222222" stroke-width="0.4" textLength="18.40" lengthAdjust="spacingAndGlyphs">67%</text>
<polyline points="223.00,159.60 218.80,159.60 215.00,166.70" fill="none" stroke="#6e6e6e" stroke-width="0.95" stroke-linejoin="round" />
<text x="63.29" y="151.10" font-size="10.473" font-weight="normal" fill="#222222" stroke="#222222" stroke-width="0.4" textLength="19.06" lengthAdjust="spacingAndGlyphs">19%</text>
<polyline points="73.00,154.60 83.00,181.20" fill="none" stroke="#6e6e6e" stroke-width="0.95" stroke-linejoin="round" />
<text x="147.14" y="179.90" font-size="10.473" font-weight="normal" fill="#222222" stroke="#222222" stroke-width="0.4" textLength="19.00" lengthAdjust="spacingAndGlyphs">33%</text>
<polyline points="156.90,159.00 156.90,168.70" fill="none" stroke="#6e6e6e" stroke-width="0.95" stroke-linejoin="round" />
<text x="124.12" y="181.90" font-size="10.473" font-weight="normal" fill="#222222" stroke="#222222" stroke-width="0.4" textLength="13.95" lengthAdjust="spacingAndGlyphs">2%</text>
<polyline points="123.50,177.70 120.60,177.70 111.90,165.80" fill="none" stroke="#6e6e6e" stroke-width="0.95" stroke-linejoin="round" />
<text x="164.43" y="192.85" font-size="10.473" font-weight="normal" fill="#222222" stroke="#222222" stroke-width="0.4" textLength="12.91" lengthAdjust="spacingAndGlyphs">7%</text>
<polyline points="177.80,188.80 185.50,188.80" fill="none" stroke="#6e6e6e" stroke-width="0.95" stroke-linejoin="round" />
<text x="159.76" y="211.60" font-size="10.473" font-weight="normal" fill="#222222" stroke="#222222" stroke-width="0.4" textLength="13.08" lengthAdjust="spacingAndGlyphs">3%</text>
<polyline points="173.20,207.30 184.00,207.00" fill="none" stroke="#6e6e6e" stroke-width="0.95" stroke-linejoin="round" />
<text x="122.31" y="211.70" font-size="10.473" font-weight="normal" fill="#222222" stroke="#222222" stroke-width="0.4" textLength="19.55" lengthAdjust="spacingAndGlyphs">55%</text>
<polyline points="132.10,214.80 127.30,229.20" fill="none" stroke="#6e6e6e" stroke-width="0.95" stroke-linejoin="round" />
<text x="66.44" y="249.20" font-size="10.473" font-weight="normal" fill="#222222" stroke="#222222" stroke-width="0.4" textLength="13.92" lengthAdjust="spacingAndGlyphs">9%</text>
<polyline points="81.20,245.60 84.00,245.60 88.80,240.80" fill="none" stroke="#6e6e6e" stroke-width="0.95" stroke-linejoin="round" />
<text x="89.55" y="265.80" font-size="10.473" font-weight="normal" fill="#222222" stroke="#222222" stroke-width="0.4" textLength="13.10" lengthAdjust="spacingAndGlyphs">2%</text>
<polyline points="103.00,262.00 107.30,262.00 112.50,252.00" fill="none" stroke="#6e6e6e" stroke-width="0.95" stroke-linejoin="round" />
<text x="114.87" y="279.00" font-size="10.473" font-weight="normal" fill="#222222" stroke="#222222" stroke-width="0.4" textLength="12.77" lengthAdjust="spacingAndGlyphs">3%</text>
<polyline points="121.70,262.00 121.70,268.70" fill="none" stroke="#6e6e6e" stroke-width="0.95" stroke-linejoin="round" />
<clipPath id="dcp11"><path d="M413.98,120.28 A74.5,74.5 0 0 1 486.49,211.92 L450.19,203.34 A37.2,37.2 0 0 0 413.98,157.58 Z"/></clipPath>
<path d="M413.98,120.28 A74.5,74.5 0 0 1 486.49,211.92 L450.19,203.34 A37.2,37.2 0 0 0 413.98,157.58 Z" fill="#557ec0" stroke="#446499" stroke-width="3.30" clip-path="url(#dcp11)"/>
<clipPath id="dcp12"><path d="M486.48,213.16 A74.5,74.5 0 0 1 446.64,262.98 L430.29,229.46 A37.2,37.2 0 0 0 450.18,204.58 Z"/></clipPath>
<path d="M486.48,213.16 A74.5,74.5 0 0 1 446.64,262.98 L430.29,229.46 A37.2,37.2 0 0 0 450.18,204.58 Z" fill="#be4f4c" stroke="#983f3c" stroke-width="3.30" clip-path="url(#dcp12)"/>
<clipPath id="dcp13"><path d="M446.05,263.34 A74.5,74.5 0 0 1 407.80,270.67 L410.60,233.48 A37.2,37.2 0 0 0 429.70,229.82 Z"/></clipPath>
<path d="M446.05,263.34 A74.5,74.5 0 0 1 407.80,270.67 L410.60,233.48 A37.2,37.2 0 0 0 429.70,229.82 Z" fill="#9bbb59" stroke="#7c9547" stroke-width="3.30" clip-path="url(#dcp13)"/>
<clipPath id="dcp14"><path d="M407.30,270.64 A74.5,74.5 0 0 1 372.86,259.18 L392.90,227.72 A37.2,37.2 0 0 0 410.10,233.44 Z"/></clipPath>
<path d="M407.30,270.64 A74.5,74.5 0 0 1 372.86,259.18 L392.90,227.72 A37.2,37.2 0 0 0 410.10,233.44 Z" fill="#7b5fa6" stroke="#624c84" stroke-width="3.30" clip-path="url(#dcp14)"/>
<clipPath id="dcp15"><path d="M372.49,258.97 A74.5,74.5 0 0 1 352.87,240.76 L382.73,218.42 A37.2,37.2 0 0 0 392.53,227.51 Z"/></clipPath>
<path d="M372.49,258.97 A74.5,74.5 0 0 1 352.87,240.76 L382.73,218.42 A37.2,37.2 0 0 0 392.53,227.51 Z" fill="#52adcc" stroke="#418aa3" stroke-width="3.30" clip-path="url(#dcp15)"/>
<clipPath id="dcp16"><path d="M352.68,240.53 A74.5,74.5 0 0 1 343.86,225.25 L378.14,210.55 A37.2,37.2 0 0 0 382.55,218.18 Z"/></clipPath>
<path d="M352.68,240.53 A74.5,74.5 0 0 1 343.86,225.25 L378.14,210.55 A37.2,37.2 0 0 0 382.55,218.18 Z" fill="#f2933f" stroke="#c17532" stroke-width="3.30" clip-path="url(#dcp16)"/>
<clipPath id="dcp17"><path d="M343.78,225.08 A74.5,74.5 0 0 1 340.64,216.27 L376.50,205.99 A37.2,37.2 0 0 0 378.07,210.39 Z"/></clipPath>
<path d="M343.78,225.08 A74.5,74.5 0 0 1 340.64,216.27 L376.50,205.99 A37.2,37.2 0 0 0 378.07,210.39 Z" fill="#2f5286" stroke="#25416b" stroke-width="3.30" clip-path="url(#dcp17)"/>
<clipPath id="dcp18"><path d="M340.61,216.15 A74.5,74.5 0 0 1 338.64,207.27 L375.48,201.44 A37.2,37.2 0 0 0 376.46,205.87 Z"/></clipPath>
<path d="M340.61,216.15 A74.5,74.5 0 0 1 338.64,207.27 L375.48,201.44 A37.2,37.2 0 0 0 376.46,205.87 Z" fill="#7c2d2b" stroke="#632422" stroke-width="3.30" clip-path="url(#dcp18)"/>
<clipPath id="dcp19"><path d="M338.62,207.16 A74.5,74.5 0 0 1 337.78,198.88 L375.04,197.19 A37.2,37.2 0 0 0 375.46,201.32 Z"/></clipPath>
<path d="M338.62,207.16 A74.5,74.5 0 0 1 337.78,198.88 L375.04,197.19 A37.2,37.2 0 0 0 375.46,201.32 Z" fill="#5e7632" stroke="#4b5e28" stroke-width="3.30" clip-path="url(#dcp19)"/>
<clipPath id="dcp20"><path d="M337.78,198.77 A74.5,74.5 0 0 1 337.86,190.58 L375.08,192.99 A37.2,37.2 0 0 0 375.04,197.08 Z"/></clipPath>
<path d="M337.78,198.77 A74.5,74.5 0 0 1 337.86,190.58 L375.08,192.99 A37.2,37.2 0 0 0 375.04,197.08 Z" fill="#4b3a6e" stroke="#3c2e58" stroke-width="3.30" clip-path="url(#dcp20)"/>
<clipPath id="dcp21"><path d="M338.17,189.86 A74.5,74.5 0 0 1 412.52,120.17 L412.52,157.47 A37.2,37.2 0 0 0 375.39,192.27 Z"/></clipPath>
<path d="M338.17,189.86 A74.5,74.5 0 0 1 412.52,120.17 L412.52,157.47 A37.2,37.2 0 0 0 375.39,192.27 Z" fill="#3f6a7e" stroke="#325464" stroke-width="3.30" clip-path="url(#dcp21)"/>
<path d="M413.98,120.28 A74.5,74.5 0 0 1 486.49,211.92 L450.19,203.34 A37.2,37.2 0 0 0 413.98,157.58 Z" fill="none" stroke="#fff" stroke-width="2.1"/>
<path d="M486.48,213.16 A74.5,74.5 0 0 1 446.64,262.98 L430.29,229.46 A37.2,37.2 0 0 0 450.18,204.58 Z" fill="none" stroke="#fff" stroke-width="2.1"/>
<path d="M446.05,263.34 A74.5,74.5 0 0 1 407.80,270.67 L410.60,233.48 A37.2,37.2 0 0 0 429.70,229.82 Z" fill="none" stroke="#fff" stroke-width="2.1"/>
<path d="M407.30,270.64 A74.5,74.5 0 0 1 372.86,259.18 L392.90,227.72 A37.2,37.2 0 0 0 410.10,233.44 Z" fill="none" stroke="#fff" stroke-width="2.1"/>
<path d="M372.49,258.97 A74.5,74.5 0 0 1 352.87,240.76 L382.73,218.42 A37.2,37.2 0 0 0 392.53,227.51 Z" fill="none" stroke="#fff" stroke-width="2.1"/>
<path d="M352.68,240.53 A74.5,74.5 0 0 1 343.86,225.25 L378.14,210.55 A37.2,37.2 0 0 0 382.55,218.18 Z" fill="none" stroke="#fff" stroke-width="2.1"/>
<path d="M343.78,225.08 A74.5,74.5 0 0 1 340.64,216.27 L376.50,205.99 A37.2,37.2 0 0 0 378.07,210.39 Z" fill="none" stroke="#fff" stroke-width="2.1"/>
<path d="M340.61,216.15 A74.5,74.5 0 0 1 338.64,207.27 L375.48,201.44 A37.2,37.2 0 0 0 376.46,205.87 Z" fill="none" stroke="#fff" stroke-width="2.1"/>
<path d="M338.62,207.16 A74.5,74.5 0 0 1 337.78,198.88 L375.04,197.19 A37.2,37.2 0 0 0 375.46,201.32 Z" fill="none" stroke="#fff" stroke-width="2.1"/>
<path d="M337.78,198.77 A74.5,74.5 0 0 1 337.86,190.58 L375.08,192.99 A37.2,37.2 0 0 0 375.04,197.08 Z" fill="none" stroke="#fff" stroke-width="2.1"/>
<path d="M338.17,189.86 A74.5,74.5 0 0 1 412.52,120.17 L412.52,157.47 A37.2,37.2 0 0 0 375.39,192.27 Z" fill="none" stroke="#fff" stroke-width="2.1"/>
<text x="482.30" y="130.50" font-size="10.473" font-weight="normal" fill="#222222" stroke="#222222" stroke-width="0.4" textLength="29.51" lengthAdjust="spacingAndGlyphs">mir-21</text>
<text x="487.72" y="143.60" font-size="10.473" font-weight="normal" fill="#222222" stroke="#222222" stroke-width="0.4" textLength="19.34" lengthAdjust="spacingAndGlyphs">29%</text>
<polyline points="481.80,132.30 477.70,132.30 467.70,146.20 462.00,154.00" fill="none" stroke="#6e6e6e" stroke-width="0.95" stroke-linejoin="round" />
<text x="482.90" y="242.40" font-size="10.473" font-weight="normal" fill="#222222" stroke="#222222" stroke-width="0.4" textLength="35.03" lengthAdjust="spacingAndGlyphs">mir-155</text>
<text x="490.98" y="255.90" font-size="10.473" font-weight="normal" fill="#222222" stroke="#222222" stroke-width="0.4" textLength="19.17" lengthAdjust="spacingAndGlyphs">14%</text>
<polyline points="482.30,244.60 477.00,244.60 457.00,230.50" fill="none" stroke="#6e6e6e" stroke-width="0.95" stroke-linejoin="round" />
<text x="436.39" y="285.30" font-size="10.473" font-weight="normal" fill="#222222" stroke="#222222" stroke-width="0.4" textLength="41.32" lengthAdjust="spacingAndGlyphs">mir-146a</text>
<text x="450.12" y="298.30" font-size="10.473" font-weight="normal" fill="#222222" stroke="#222222" stroke-width="0.4" textLength="14.45" lengthAdjust="spacingAndGlyphs">9%</text>
<polyline points="435.60,285.80 431.50,285.80 421.00,252.00" fill="none" stroke="#6e6e6e" stroke-width="0.95" stroke-linejoin="round" />
<text x="372.30" y="292.10" font-size="10.473" font-weight="normal" fill="#222222" stroke="#222222" stroke-width="0.4" textLength="40.71" lengthAdjust="spacingAndGlyphs">mir-148a</text>
<text x="386.09" y="305.00" font-size="10.473" font-weight="normal" fill="#222222" stroke="#222222" stroke-width="0.4" textLength="13.87" lengthAdjust="spacingAndGlyphs">8%</text>
<polyline points="393.80,250.80 393.80,281.00" fill="none" stroke="#6e6e6e" stroke-width="0.95" stroke-linejoin="round" />
<text x="323.28" y="289.10" font-size="10.473" font-weight="normal" fill="#222222" stroke="#222222" stroke-width="0.4" textLength="26.81" lengthAdjust="spacingAndGlyphs">let-7g</text>
<text x="329.72" y="302.00" font-size="10.473" font-weight="normal" fill="#222222" stroke="#222222" stroke-width="0.4" textLength="13.84" lengthAdjust="spacingAndGlyphs">6%</text>
<polyline points="350.50,290.80 353.80,290.80 370.40,245.80" fill="none" stroke="#6e6e6e" stroke-width="0.95" stroke-linejoin="round" />
<text x="278.01" y="265.50" font-size="10.473" font-weight="normal" fill="#222222" stroke="#222222" stroke-width="0.4" textLength="40.30" lengthAdjust="spacingAndGlyphs">mir-378a</text>
<text x="291.89" y="278.20" font-size="10.473" font-weight="normal" fill="#222222" stroke="#222222" stroke-width="0.4" textLength="13.57" lengthAdjust="spacingAndGlyphs">4%</text>
<polyline points="319.60,267.70 323.80,267.70 352.00,237.70 360.00,230.00" fill="none" stroke="#6e6e6e" stroke-width="0.95" stroke-linejoin="round" />
<text x="280.95" y="236.00" font-size="10.473" font-weight="normal" fill="#222222" stroke="#222222" stroke-width="0.4" textLength="24.21" lengthAdjust="spacingAndGlyphs">let-7i</text>
<text x="286.53" y="249.80" font-size="10.473" font-weight="normal" fill="#222222" stroke="#222222" stroke-width="0.4" textLength="13.63" lengthAdjust="spacingAndGlyphs">2%</text>
<polyline points="306.20,238.50 309.80,238.50 342.70,223.30" fill="none" stroke="#6e6e6e" stroke-width="0.95" stroke-linejoin="round" />
<text x="259.09" y="209.60" font-size="10.473" font-weight="normal" fill="#222222" stroke="#222222" stroke-width="0.4" textLength="35.56" lengthAdjust="spacingAndGlyphs">mir-142</text>
<text x="270.74" y="222.30" font-size="10.473" font-weight="normal" fill="#222222" stroke="#222222" stroke-width="0.4" textLength="13.31" lengthAdjust="spacingAndGlyphs">2%</text>
<polyline points="295.60,211.80 339.00,208.70" fill="none" stroke="#6e6e6e" stroke-width="0.95" stroke-linejoin="round" />
<text x="261.79" y="176.70" font-size="10.473" font-weight="normal" fill="#222222" stroke="#222222" stroke-width="0.4" textLength="35.59" lengthAdjust="spacingAndGlyphs">mir-30d</text>
<text x="273.05" y="189.60" font-size="10.473" font-weight="normal" fill="#222222" stroke="#222222" stroke-width="0.4" textLength="12.88" lengthAdjust="spacingAndGlyphs">2%</text>
<polyline points="298.30,178.80 338.00,193.10" fill="none" stroke="#6e6e6e" stroke-width="0.95" stroke-linejoin="round" />
<text x="270.60" y="146.30" font-size="10.473" font-weight="normal" fill="#222222" stroke="#222222" stroke-width="0.4" textLength="34.92" lengthAdjust="spacingAndGlyphs">mir-20a</text>
<text x="281.72" y="160.00" font-size="10.473" font-weight="normal" fill="#222222" stroke="#222222" stroke-width="0.4" textLength="13.73" lengthAdjust="spacingAndGlyphs">2%</text>
<polyline points="306.30,148.30 311.00,148.30 340.40,178.10 352.00,189.60" fill="none" stroke="#6e6e6e" stroke-width="0.95" stroke-linejoin="round" />
<text x="312.51" y="124.70" font-size="10.473" font-weight="normal" fill="#222222" stroke="#222222" stroke-width="0.4" textLength="30.65" lengthAdjust="spacingAndGlyphs">Others</text>
<text x="318.22" y="138.10" font-size="10.473" font-weight="normal" fill="#222222" stroke="#222222" stroke-width="0.4" textLength="19.23" lengthAdjust="spacingAndGlyphs">24%</text>
<polyline points="343.40,126.80 347.40,126.80 361.50,141.00 372.30,153.10" fill="none" stroke="#6e6e6e" stroke-width="0.95" stroke-linejoin="round" />
<line x1="49.30" y1="453.05" x2="166.50" y2="453.05" stroke="#7c7c7c" stroke-width="1.0" stroke-dasharray="2,1"/>
<line x1="49.30" y1="437.10" x2="166.50" y2="437.10" stroke="#7c7c7c" stroke-width="1.0" stroke-dasharray="2,1"/>
<line x1="49.30" y1="421.15" x2="166.50" y2="421.15" stroke="#7c7c7c" stroke-width="1.0" stroke-dasharray="2,1"/>
<line x1="49.30" y1="405.20" x2="166.50" y2="405.20" stroke="#7c7c7c" stroke-width="1.0" stroke-dasharray="2,1"/>
<line x1="49.30" y1="389.25" x2="166.50" y2="389.25" stroke="#7c7c7c" stroke-width="1.0" stroke-dasharray="2,1"/>
<line x1="49.30" y1="373.30" x2="166.50" y2="373.30" stroke="#7c7c7c" stroke-width="1.0" stroke-dasharray="2,1"/>
<line x1="49.30" y1="357.35" x2="166.50" y2="357.35" stroke="#7c7c7c" stroke-width="1.0" stroke-dasharray="2,1"/>
<rect x="49.30" y="341.40" width="117.20" height="127.60" fill="none" stroke="#3e3e3e" stroke-width="1.2" />
<line x1="45.90" y1="469.00" x2="49.30" y2="469.00" stroke="#4a4a4a" stroke-width="1.0" />
<text x="34.07" y="472.35" font-size="9.745" font-weight="normal" fill="#222222" stroke="#222222" stroke-width="0.4" textLength="5.30" lengthAdjust="spacingAndGlyphs">0</text>
<line x1="45.90" y1="453.05" x2="49.30" y2="453.05" stroke="#4a4a4a" stroke-width="1.0" />
<text x="33.95" y="456.40" font-size="9.745" font-weight="normal" fill="#222222" stroke="#222222" stroke-width="0.4" textLength="5.56" lengthAdjust="spacingAndGlyphs">2</text>
<line x1="45.90" y1="437.10" x2="49.30" y2="437.10" stroke="#4a4a4a" stroke-width="1.0" />
<text x="34.25" y="440.45" font-size="9.745" font-weight="normal" fill="#222222" stroke="#222222" stroke-width="0.4" textLength="5.01" lengthAdjust="spacingAndGlyphs">4</text>
<line x1="45.90" y1="421.15" x2="49.30" y2="421.15" stroke="#4a4a4a" stroke-width="1.0" />
<text x="33.96" y="424.50" font-size="9.745" font-weight="normal" fill="#222222" stroke="#222222" stroke-width="0.4" textLength="5.47" lengthAdjust="spacingAndGlyphs">6</text>
<line x1="45.90" y1="405.20" x2="49.30" y2="405.20" stroke="#4a4a4a" stroke-width="1.0" />
<text x="34.04" y="408.55" font-size="9.745" font-weight="normal" fill="#222222" stroke="#222222" stroke-width="0.4" textLength="5.38" lengthAdjust="spacingAndGlyphs">8</text>
<line x1="45.90" y1="389.25" x2="49.30" y2="389.25" stroke="#4a4a4a" stroke-width="1.0" />
<text x="28.57" y="392.60" font-size="9.745" font-weight="normal" fill="#222222" stroke="#222222" stroke-width="0.4" textLength="10.82" lengthAdjust="spacingAndGlyphs">10</text>
<line x1="45.90" y1="373.30" x2="49.30" y2="373.30" stroke="#4a4a4a" stroke-width="1.0" />
<text x="28.56" y="376.65" font-size="9.745" font-weight="normal" fill="#222222" stroke="#222222" stroke-width="0.4" textLength="10.95" lengthAdjust="spacingAndGlyphs">12</text>
<line x1="45.90" y1="357.35" x2="49.30" y2="357.35" stroke="#4a4a4a" stroke-width="1.0" />
<text x="28.58" y="360.70" font-size="9.745" font-weight="normal" fill="#222222" stroke="#222222" stroke-width="0.4" textLength="10.71" lengthAdjust="spacingAndGlyphs">14</text>
<line x1="45.90" y1="341.40" x2="49.30" y2="341.40" stroke="#4a4a4a" stroke-width="1.0" />
<text x="28.57" y="344.75" font-size="9.745" font-weight="normal" fill="#222222" stroke="#222222" stroke-width="0.4" textLength="10.87" lengthAdjust="spacingAndGlyphs">16</text>
<line x1="61.05" y1="461.02" x2="61.05" y2="457.44" stroke="#333" stroke-width="1.05" />
<line x1="58.75" y1="457.44" x2="63.35" y2="457.44" stroke="#333" stroke-width="1.2" />
<rect x="54.40" y="461.02" width="13.30" height="7.98" fill="#808080" stroke="#222" stroke-width="1.0" />
<line x1="84.25" y1="410.22" x2="84.25" y2="395.23" stroke="#333" stroke-width="1.05" />
<line x1="81.95" y1="395.23" x2="86.55" y2="395.23" stroke="#333" stroke-width="1.2" />
<rect x="77.60" y="410.22" width="13.30" height="58.78" fill="#fff" stroke="#222" stroke-width="1.0" />
<line x1="107.65" y1="396.51" x2="107.65" y2="386.54" stroke="#333" stroke-width="1.05" />
<line x1="105.35" y1="386.54" x2="109.95" y2="386.54" stroke="#333" stroke-width="1.2" />
<rect x="101.00" y="396.51" width="13.30" height="72.49" fill="#fff" stroke="#222" stroke-width="1.0" />
<line x1="131.15" y1="399.54" x2="131.15" y2="387.65" stroke="#333" stroke-width="1.05" />
<line x1="128.85" y1="387.65" x2="133.45" y2="387.65" stroke="#333" stroke-width="1.2" />
<rect x="124.50" y="399.54" width="13.30" height="69.46" fill="#fff" stroke="#222" stroke-width="1.0" />
<line x1="154.65" y1="378.48" x2="154.65" y2="346.50" stroke="#333" stroke-width="1.05" />
<line x1="152.35" y1="346.50" x2="156.95" y2="346.50" stroke="#333" stroke-width="1.2" />
<rect x="148.00" y="378.48" width="13.30" height="90.52" fill="#fff" stroke="#222" stroke-width="1.0" />
<line x1="49.30" y1="469.00" x2="166.50" y2="469.00" stroke="#4a4a4a" stroke-width="1.2" />
<line x1="49.30" y1="341.40" x2="49.30" y2="472.00" stroke="#5a5a5a" stroke-width="1.5" />
<line x1="72.90" y1="469.00" x2="72.90" y2="472.20" stroke="#4a4a4a" stroke-width="1.0" />
<line x1="96.30" y1="469.00" x2="96.30" y2="472.20" stroke="#4a4a4a" stroke-width="1.0" />
<line x1="119.70" y1="469.00" x2="119.70" y2="472.20" stroke="#4a4a4a" stroke-width="1.0" />
<line x1="143.10" y1="469.00" x2="143.10" y2="472.20" stroke="#4a4a4a" stroke-width="1.0" />
<line x1="166.50" y1="469.00" x2="166.50" y2="472.20" stroke="#4a4a4a" stroke-width="1.0" />
<text x="58.48" y="483.35" font-size="9.745" font-weight="normal" fill="#222222" stroke="#222222" stroke-width="0.4" textLength="5.42" lengthAdjust="spacingAndGlyphs">0</text>
<text x="81.76" y="483.35" font-size="9.745" font-weight="normal" fill="#222222" stroke="#222222" stroke-width="0.4" textLength="5.42" lengthAdjust="spacingAndGlyphs">1</text>
<text x="105.32" y="483.35" font-size="9.745" font-weight="normal" fill="#222222" stroke="#222222" stroke-width="0.4" textLength="5.42" lengthAdjust="spacingAndGlyphs">4</text>
<text x="128.70" y="483.35" font-size="9.745" font-weight="normal" fill="#222222" stroke="#222222" stroke-width="0.4" textLength="5.42" lengthAdjust="spacingAndGlyphs">8</text>
<text x="149.28" y="483.35" font-size="9.745" font-weight="normal" fill="#222222" stroke="#222222" stroke-width="0.4" textLength="10.84" lengthAdjust="spacingAndGlyphs">24</text>
<text x="167.52" y="482.66" font-size="9.330" font-weight="normal" fill="#222222" stroke="#222222" stroke-width="0.4" textLength="13.36" lengthAdjust="spacingAndGlyphs">(h)</text>
<text transform="translate(20.20,475.66) rotate(-90)" x="0" y="0" font-size="9.600" fill="#222222" stroke="#222222" stroke-width="0.4" textLength="138.27" lengthAdjust="spacingAndGlyphs">miR-150 expression (FC of Ctrl)</text>
<line x1="220.40" y1="441.10" x2="353.50" y2="441.10" stroke="#7c7c7c" stroke-width="1.0" stroke-dasharray="2,1"/>
<line x1="220.40" y1="413.90" x2="353.50" y2="413.90" stroke="#7c7c7c" stroke-width="1.0" stroke-dasharray="2,1"/>
<line x1="220.40" y1="386.70" x2="353.50" y2="386.70" stroke="#7c7c7c" stroke-width="1.0" stroke-dasharray="2,1"/>
<line x1="220.40" y1="359.50" x2="353.50" y2="359.50" stroke="#7c7c7c" stroke-width="1.0" stroke-dasharray="2,1"/>
<rect x="220.40" y="342.00" width="133.10" height="126.30" fill="none" stroke="#3e3e3e" stroke-width="1.2" />
<line x1="217.00" y1="468.30" x2="220.40" y2="468.30" stroke="#4a4a4a" stroke-width="1.0" />
<text x="205.98" y="471.65" font-size="9.745" font-weight="normal" fill="#222222" stroke="#222222" stroke-width="0.4" textLength="4.63" lengthAdjust="spacingAndGlyphs">1</text>
<line x1="217.00" y1="441.10" x2="220.40" y2="441.10" stroke="#4a4a4a" stroke-width="1.0" />
<text x="205.15" y="444.45" font-size="9.745" font-weight="normal" fill="#222222" stroke="#222222" stroke-width="0.4" textLength="5.56" lengthAdjust="spacingAndGlyphs">2</text>
<line x1="217.00" y1="413.90" x2="220.40" y2="413.90" stroke="#4a4a4a" stroke-width="1.0" />
<text x="205.45" y="417.25" font-size="9.745" font-weight="normal" fill="#222222" stroke="#222222" stroke-width="0.4" textLength="5.01" lengthAdjust="spacingAndGlyphs">4</text>
<line x1="217.00" y1="386.70" x2="220.40" y2="386.70" stroke="#4a4a4a" stroke-width="1.0" />
<text x="205.24" y="390.05" font-size="9.745" font-weight="normal" fill="#222222" stroke="#222222" stroke-width="0.4" textLength="5.38" lengthAdjust="spacingAndGlyphs">8</text>
<line x1="217.00" y1="359.50" x2="220.40" y2="359.50" stroke="#4a4a4a" stroke-width="1.0" />
<text x="199.77" y="362.85" font-size="9.745" font-weight="normal" fill="#222222" stroke="#222222" stroke-width="0.4" textLength="10.87" lengthAdjust="spacingAndGlyphs">16</text>
<line x1="235.10" y1="353.70" x2="235.10" y2="351.00" stroke="#333" stroke-width="1.05" />
<line x1="232.80" y1="351.00" x2="237.40" y2="351.00" stroke="#333" stroke-width="1.2" />
<rect x="228.40" y="353.70" width="13.40" height="114.60" fill="#808080" stroke="#222" stroke-width="1.0" />
<line x1="250.70" y1="385.20" x2="250.70" y2="376.30" stroke="#333" stroke-width="1.05" />
<line x1="248.40" y1="376.30" x2="253.00" y2="376.30" stroke="#333" stroke-width="1.2" />
<rect x="243.80" y="385.20" width="13.80" height="83.10" fill="#fff" stroke="#222" stroke-width="1.0" />
<line x1="279.05" y1="368.50" x2="279.05" y2="363.70" stroke="#333" stroke-width="1.05" />
<line x1="276.75" y1="363.70" x2="281.35" y2="363.70" stroke="#333" stroke-width="1.2" />
<rect x="272.50" y="368.50" width="13.10" height="99.80" fill="#808080" stroke="#222" stroke-width="1.0" />
<line x1="294.85" y1="363.40" x2="294.85" y2="356.10" stroke="#333" stroke-width="1.05" />
<line x1="292.55" y1="356.10" x2="297.15" y2="356.10" stroke="#333" stroke-width="1.2" />
<rect x="288.20" y="363.40" width="13.30" height="104.90" fill="#fff" stroke="#222" stroke-width="1.0" />
<line x1="323.20" y1="445.80" x2="323.20" y2="443.10" stroke="#333" stroke-width="1.05" />
<line x1="320.90" y1="443.10" x2="325.50" y2="443.10" stroke="#333" stroke-width="1.2" />
<rect x="316.60" y="445.80" width="13.20" height="22.50" fill="#808080" stroke="#222" stroke-width="1.0" />
<line x1="338.75" y1="440.40" x2="338.75" y2="433.70" stroke="#333" stroke-width="1.05" />
<line x1="336.45" y1="433.70" x2="341.05" y2="433.70" stroke="#333" stroke-width="1.2" />
<rect x="332.10" y="440.40" width="13.30" height="27.90" fill="#fff" stroke="#222" stroke-width="1.0" />
<line x1="220.40" y1="468.30" x2="353.50" y2="468.30" stroke="#4a4a4a" stroke-width="1.2" />
<line x1="220.40" y1="342.00" x2="220.40" y2="471.30" stroke="#5a5a5a" stroke-width="1.5" />
<line x1="264.70" y1="468.30" x2="264.70" y2="471.70" stroke="#4a4a4a" stroke-width="1.0" />
<line x1="309.10" y1="468.30" x2="309.10" y2="471.70" stroke="#4a4a4a" stroke-width="1.0" />
<line x1="353.50" y1="468.30" x2="353.50" y2="471.70" stroke="#4a4a4a" stroke-width="1.0" />
<text x="221.55" y="482.35" font-size="9.745" font-weight="normal" fill="#222222" stroke="#222222" stroke-width="0.4" textLength="41.55" lengthAdjust="spacingAndGlyphs">miR-146a</text>
<text x="268.12" y="482.35" font-size="9.745" font-weight="normal" fill="#222222" stroke="#222222" stroke-width="0.4" textLength="37.87" lengthAdjust="spacingAndGlyphs">miR-150</text>
<text x="312.33" y="482.35" font-size="9.745" font-weight="normal" fill="#222222" stroke="#222222" stroke-width="0.4" textLength="37.48" lengthAdjust="spacingAndGlyphs">miR-155</text>
<rect x="315.50" y="349.00" width="6.60" height="6.30" fill="#808080" stroke="#222" stroke-width="1.0" />
<text x="325.41" y="354.90" font-size="8.727" font-weight="normal" fill="#222222" stroke="#222222" stroke-width="0.4" textLength="24.57" lengthAdjust="spacingAndGlyphs">HD#1</text>
<rect x="315.50" y="363.40" width="6.60" height="6.60" fill="#fff" stroke="#222" stroke-width="1.0" />
<text x="325.41" y="369.30" font-size="8.727" font-weight="normal" fill="#222222" stroke="#222222" stroke-width="0.4" textLength="24.59" lengthAdjust="spacingAndGlyphs">HD#2</text>
<text transform="translate(195.80,472.07) rotate(-90)" x="0" y="0" font-size="9.455" fill="#222222" stroke="#222222" stroke-width="0.4" textLength="133.89" lengthAdjust="spacingAndGlyphs">miRNA expression (FC of Ctrl)</text>
<line x1="412.60" y1="451.27" x2="518.00" y2="451.27" stroke="#7c7c7c" stroke-width="1.0" stroke-dasharray="2,1"/>
<line x1="412.60" y1="433.84" x2="518.00" y2="433.84" stroke="#7c7c7c" stroke-width="1.0" stroke-dasharray="2,1"/>
<line x1="412.60" y1="416.41" x2="518.00" y2="416.41" stroke="#7c7c7c" stroke-width="1.0" stroke-dasharray="2,1"/>
<line x1="412.60" y1="398.98" x2="518.00" y2="398.98" stroke="#7c7c7c" stroke-width="1.0" stroke-dasharray="2,1"/>
<line x1="412.60" y1="381.55" x2="518.00" y2="381.55" stroke="#7c7c7c" stroke-width="1.0" stroke-dasharray="2,1"/>
<line x1="412.60" y1="364.12" x2="518.00" y2="364.12" stroke="#7c7c7c" stroke-width="1.0" stroke-dasharray="2,1"/>
<line x1="412.60" y1="346.69" x2="518.00" y2="346.69" stroke="#7c7c7c" stroke-width="1.0" stroke-dasharray="2,1"/>
<rect x="412.60" y="341.40" width="105.40" height="127.30" fill="none" stroke="#3e3e3e" stroke-width="1.2" />
<line x1="409.20" y1="468.70" x2="412.60" y2="468.70" stroke="#4a4a4a" stroke-width="1.0" />
<text x="398.48" y="472.05" font-size="9.745" font-weight="normal" fill="#222222" stroke="#222222" stroke-width="0.4" textLength="4.63" lengthAdjust="spacingAndGlyphs">1</text>
<line x1="409.20" y1="451.27" x2="412.60" y2="451.27" stroke="#4a4a4a" stroke-width="1.0" />
<text x="397.65" y="454.62" font-size="9.745" font-weight="normal" fill="#222222" stroke="#222222" stroke-width="0.4" textLength="5.56" lengthAdjust="spacingAndGlyphs">2</text>
<line x1="409.20" y1="433.84" x2="412.60" y2="433.84" stroke="#4a4a4a" stroke-width="1.0" />
<text x="397.95" y="437.19" font-size="9.745" font-weight="normal" fill="#222222" stroke="#222222" stroke-width="0.4" textLength="5.01" lengthAdjust="spacingAndGlyphs">4</text>
<line x1="409.20" y1="416.41" x2="412.60" y2="416.41" stroke="#4a4a4a" stroke-width="1.0" />
<text x="397.74" y="419.76" font-size="9.745" font-weight="normal" fill="#222222" stroke="#222222" stroke-width="0.4" textLength="5.38" lengthAdjust="spacingAndGlyphs">8</text>
<line x1="409.20" y1="398.98" x2="412.60" y2="398.98" stroke="#4a4a4a" stroke-width="1.0" />
<text x="392.27" y="402.33" font-size="9.745" font-weight="normal" fill="#222222" stroke="#222222" stroke-width="0.4" textLength="10.87" lengthAdjust="spacingAndGlyphs">16</text>
<line x1="409.20" y1="381.55" x2="412.60" y2="381.55" stroke="#4a4a4a" stroke-width="1.0" />
<text x="392.64" y="384.90" font-size="9.745" font-weight="normal" fill="#222222" stroke="#222222" stroke-width="0.4" textLength="10.55" lengthAdjust="spacingAndGlyphs">32</text>
<line x1="409.20" y1="364.12" x2="412.60" y2="364.12" stroke="#4a4a4a" stroke-width="1.0" />
<text x="392.53" y="367.47" font-size="9.745" font-weight="normal" fill="#222222" stroke="#222222" stroke-width="0.4" textLength="10.45" lengthAdjust="spacingAndGlyphs">64</text>
<line x1="409.20" y1="346.69" x2="412.60" y2="346.69" stroke="#4a4a4a" stroke-width="1.0" />
<text x="387.13" y="350.04" font-size="9.745" font-weight="normal" fill="#222222" stroke="#222222" stroke-width="0.4" textLength="15.99" lengthAdjust="spacingAndGlyphs">128</text>
<line x1="429.95" y1="368.20" x2="429.95" y2="365.00" stroke="#333" stroke-width="1.05" />
<line x1="427.65" y1="365.00" x2="432.25" y2="365.00" stroke="#333" stroke-width="1.2" />
<rect x="422.50" y="368.20" width="14.90" height="100.50" fill="#808080" stroke="#222" stroke-width="1.0" />
<line x1="448.45" y1="348.30" x2="448.45" y2="345.60" stroke="#333" stroke-width="1.05" />
<line x1="446.15" y1="345.60" x2="450.75" y2="345.60" stroke="#333" stroke-width="1.2" />
<rect x="440.70" y="348.30" width="15.50" height="120.40" fill="#fff" stroke="#222" stroke-width="1.0" />
<line x1="483.00" y1="416.20" x2="483.00" y2="408.10" stroke="#333" stroke-width="1.05" />
<line x1="480.70" y1="408.10" x2="485.30" y2="408.10" stroke="#333" stroke-width="1.2" />
<rect x="475.60" y="416.20" width="14.80" height="52.50" fill="#808080" stroke="#222" stroke-width="1.0" />
<line x1="501.40" y1="442.50" x2="501.40" y2="436.90" stroke="#333" stroke-width="1.05" />
<line x1="499.10" y1="436.90" x2="503.70" y2="436.90" stroke="#333" stroke-width="1.2" />
<rect x="493.60" y="442.50" width="15.60" height="26.20" fill="#fff" stroke="#222" stroke-width="1.0" />
<line x1="412.60" y1="468.70" x2="518.00" y2="468.70" stroke="#4a4a4a" stroke-width="1.2" />
<line x1="412.60" y1="341.40" x2="412.60" y2="471.70" stroke="#5a5a5a" stroke-width="1.5" />
<line x1="465.60" y1="468.70" x2="465.60" y2="471.90" stroke="#4a4a4a" stroke-width="1.0" />
<text x="417.83" y="482.85" font-size="9.745" font-weight="normal" fill="#222222" stroke="#222222" stroke-width="0.4" textLength="42.87" lengthAdjust="spacingAndGlyphs">miR-146a</text>
<text x="473.12" y="482.85" font-size="9.745" font-weight="normal" fill="#222222" stroke="#222222" stroke-width="0.4" textLength="38.28" lengthAdjust="spacingAndGlyphs">miR-150</text>
<rect x="481.90" y="353.30" width="6.60" height="6.30" fill="#808080" stroke="#222" stroke-width="1.0" />
<text x="491.41" y="359.30" font-size="8.727" font-weight="normal" fill="#222222" stroke="#222222" stroke-width="0.4" textLength="24.57" lengthAdjust="spacingAndGlyphs">HD#1</text>
<rect x="481.90" y="369.60" width="6.60" height="6.00" fill="#fff" stroke="#222" stroke-width="1.0" />
<text x="491.41" y="375.40" font-size="8.727" font-weight="normal" fill="#222222" stroke="#222222" stroke-width="0.4" textLength="24.59" lengthAdjust="spacingAndGlyphs">HD#2</text>
<text transform="translate(379.70,472.78) rotate(-90)" x="0" y="0" font-size="9.891" fill="#222222" stroke="#222222" stroke-width="0.4" textLength="134.60" lengthAdjust="spacingAndGlyphs">miRNA expression (FC of Ctrl)</text>
<line x1="48.30" y1="630.90" x2="167.10" y2="630.90" stroke="#7c7c7c" stroke-width="1.0" stroke-dasharray="2,1"/>
<line x1="48.30" y1="611.50" x2="167.10" y2="611.50" stroke="#7c7c7c" stroke-width="1.0" stroke-dasharray="2,1"/>
<line x1="48.30" y1="592.10" x2="167.10" y2="592.10" stroke="#7c7c7c" stroke-width="1.0" stroke-dasharray="2,1"/>
<line x1="48.30" y1="572.70" x2="167.10" y2="572.70" stroke="#7c7c7c" stroke-width="1.0" stroke-dasharray="2,1"/>
<line x1="48.30" y1="553.30" x2="167.10" y2="553.30" stroke="#7c7c7c" stroke-width="1.0" stroke-dasharray="2,1"/>
<line x1="48.30" y1="533.90" x2="167.10" y2="533.90" stroke="#7c7c7c" stroke-width="1.0" stroke-dasharray="2,1"/>
<rect x="48.30" y="523.80" width="118.80" height="126.50" fill="none" stroke="#3e3e3e" stroke-width="1.2" />
<line x1="44.90" y1="650.30" x2="48.30" y2="650.30" stroke="#4a4a4a" stroke-width="1.0" />
<text x="33.47" y="653.65" font-size="9.745" font-weight="normal" fill="#222222" stroke="#222222" stroke-width="0.4" textLength="5.30" lengthAdjust="spacingAndGlyphs">0</text>
<line x1="44.90" y1="630.90" x2="48.30" y2="630.90" stroke="#4a4a4a" stroke-width="1.0" />
<text x="27.97" y="634.25" font-size="9.745" font-weight="normal" fill="#222222" stroke="#222222" stroke-width="0.4" textLength="10.82" lengthAdjust="spacingAndGlyphs">10</text>
<line x1="44.90" y1="611.50" x2="48.30" y2="611.50" stroke="#4a4a4a" stroke-width="1.0" />
<text x="28.23" y="614.85" font-size="9.745" font-weight="normal" fill="#222222" stroke="#222222" stroke-width="0.4" textLength="10.55" lengthAdjust="spacingAndGlyphs">20</text>
<line x1="44.90" y1="592.10" x2="48.30" y2="592.10" stroke="#4a4a4a" stroke-width="1.0" />
<text x="28.35" y="595.45" font-size="9.745" font-weight="normal" fill="#222222" stroke="#222222" stroke-width="0.4" textLength="10.42" lengthAdjust="spacingAndGlyphs">30</text>
<line x1="44.90" y1="572.70" x2="48.30" y2="572.70" stroke="#4a4a4a" stroke-width="1.0" />
<text x="28.49" y="576.05" font-size="9.745" font-weight="normal" fill="#222222" stroke="#222222" stroke-width="0.4" textLength="10.28" lengthAdjust="spacingAndGlyphs">40</text>
<line x1="44.90" y1="553.30" x2="48.30" y2="553.30" stroke="#4a4a4a" stroke-width="1.0" />
<text x="28.32" y="556.65" font-size="9.745" font-weight="normal" fill="#222222" stroke="#222222" stroke-width="0.4" textLength="10.45" lengthAdjust="spacingAndGlyphs">50</text>
<line x1="44.90" y1="533.90" x2="48.30" y2="533.90" stroke="#4a4a4a" stroke-width="1.0" />
<text x="28.23" y="537.25" font-size="9.745" font-weight="normal" fill="#222222" stroke="#222222" stroke-width="0.4" textLength="10.55" lengthAdjust="spacingAndGlyphs">60</text>
<line x1="63.55" y1="647.68" x2="63.55" y2="646.61" stroke="#333" stroke-width="1.05" />
<line x1="61.25" y1="646.61" x2="65.85" y2="646.61" stroke="#333" stroke-width="1.2" />
<rect x="55.20" y="647.68" width="16.70" height="2.62" fill="#5a5a5a" stroke="#222" stroke-width="1.0" />
<line x1="93.00" y1="647.68" x2="93.00" y2="646.23" stroke="#333" stroke-width="1.05" />
<line x1="90.70" y1="646.23" x2="95.30" y2="646.23" stroke="#333" stroke-width="1.2" />
<rect x="84.70" y="647.68" width="16.60" height="2.62" fill="#8e8e8e" stroke="#222" stroke-width="1.0" />
<line x1="122.80" y1="644.48" x2="122.80" y2="643.32" stroke="#333" stroke-width="1.05" />
<line x1="120.50" y1="643.32" x2="125.10" y2="643.32" stroke="#333" stroke-width="1.2" />
<rect x="114.30" y="644.48" width="17.00" height="5.82" fill="#cdcdcd" stroke="#222" stroke-width="1.0" />
<line x1="152.20" y1="567.85" x2="152.20" y2="531.57" stroke="#333" stroke-width="1.05" />
<line x1="149.90" y1="531.57" x2="154.50" y2="531.57" stroke="#333" stroke-width="1.2" />
<rect x="143.80" y="567.85" width="16.80" height="82.45" fill="#fff" stroke="#222" stroke-width="1.0" />
<line x1="48.30" y1="650.30" x2="167.10" y2="650.30" stroke="#4a4a4a" stroke-width="1.2" />
<line x1="48.30" y1="523.80" x2="48.30" y2="653.30" stroke="#5a5a5a" stroke-width="1.5" />
<line x1="77.90" y1="650.30" x2="77.90" y2="653.50" stroke="#4a4a4a" stroke-width="1.0" />
<line x1="107.60" y1="650.30" x2="107.60" y2="653.50" stroke="#4a4a4a" stroke-width="1.0" />
<line x1="137.40" y1="650.30" x2="137.40" y2="653.50" stroke="#4a4a4a" stroke-width="1.0" />
<line x1="167.10" y1="650.30" x2="167.10" y2="653.50" stroke="#4a4a4a" stroke-width="1.0" />
<text x="55.25" y="664.65" font-size="9.745" font-weight="normal" fill="#222222" stroke="#222222" stroke-width="0.4" textLength="17.09" lengthAdjust="spacingAndGlyphs">Ctrl</text>
<text x="83.87" y="664.65" font-size="9.745" font-weight="normal" fill="#222222" stroke="#222222" stroke-width="0.4" textLength="17.75" lengthAdjust="spacingAndGlyphs">FCS</text>
<text x="116.07" y="664.65" font-size="9.745" font-weight="normal" fill="#222222" stroke="#222222" stroke-width="0.4" textLength="12.85" lengthAdjust="spacingAndGlyphs">HD</text>
<text x="144.79" y="664.65" font-size="9.745" font-weight="normal" fill="#222222" stroke="#222222" stroke-width="0.4" textLength="15.10" lengthAdjust="spacingAndGlyphs">CLL</text>
<line x1="112.20" y1="669.40" x2="161.20" y2="669.40" stroke="#888" stroke-width="1.2" />
<text x="120.36" y="680.15" font-size="9.745" font-weight="normal" fill="#222222" stroke="#222222" stroke-width="0.4" textLength="31.96" lengthAdjust="spacingAndGlyphs">plasma</text>
<text transform="translate(19.70,654.65) rotate(-90)" x="0" y="0" font-size="9.309" fill="#222222" stroke="#222222" stroke-width="0.4" textLength="135.34" lengthAdjust="spacingAndGlyphs">miR-150 expression (FC of Ctrl)</text>
<line x1="230.60" y1="630.90" x2="319.50" y2="630.90" stroke="#7c7c7c" stroke-width="1.0" stroke-dasharray="2,1"/>
<line x1="230.60" y1="611.50" x2="319.50" y2="611.50" stroke="#7c7c7c" stroke-width="1.0" stroke-dasharray="2,1"/>
<line x1="230.60" y1="592.10" x2="319.50" y2="592.10" stroke="#7c7c7c" stroke-width="1.0" stroke-dasharray="2,1"/>
<line x1="230.60" y1="572.70" x2="319.50" y2="572.70" stroke="#7c7c7c" stroke-width="1.0" stroke-dasharray="2,1"/>
<line x1="230.60" y1="553.30" x2="319.50" y2="553.30" stroke="#7c7c7c" stroke-width="1.0" stroke-dasharray="2,1"/>
<line x1="230.60" y1="533.90" x2="319.50" y2="533.90" stroke="#7c7c7c" stroke-width="1.0" stroke-dasharray="2,1"/>
<rect x="230.60" y="524.50" width="88.90" height="125.80" fill="none" stroke="#3e3e3e" stroke-width="1.2" />
<line x1="227.20" y1="650.30" x2="230.60" y2="650.30" stroke="#4a4a4a" stroke-width="1.0" />
<text x="206.80" y="653.65" font-size="9.745" font-weight="normal" fill="#222222" stroke="#222222" stroke-width="0.4" textLength="13.88" lengthAdjust="spacingAndGlyphs">0.0</text>
<line x1="227.20" y1="630.90" x2="230.60" y2="630.90" stroke="#4a4a4a" stroke-width="1.0" />
<text x="206.80" y="634.25" font-size="9.745" font-weight="normal" fill="#222222" stroke="#222222" stroke-width="0.4" textLength="14.01" lengthAdjust="spacingAndGlyphs">0.2</text>
<line x1="227.20" y1="611.50" x2="230.60" y2="611.50" stroke="#4a4a4a" stroke-width="1.0" />
<text x="206.80" y="614.85" font-size="9.745" font-weight="normal" fill="#222222" stroke="#222222" stroke-width="0.4" textLength="13.77" lengthAdjust="spacingAndGlyphs">0.4</text>
<line x1="227.20" y1="592.10" x2="230.60" y2="592.10" stroke="#4a4a4a" stroke-width="1.0" />
<text x="206.80" y="595.45" font-size="9.745" font-weight="normal" fill="#222222" stroke="#222222" stroke-width="0.4" textLength="13.93" lengthAdjust="spacingAndGlyphs">0.6</text>
<line x1="227.20" y1="572.70" x2="230.60" y2="572.70" stroke="#4a4a4a" stroke-width="1.0" />
<text x="206.80" y="576.05" font-size="9.745" font-weight="normal" fill="#222222" stroke="#222222" stroke-width="0.4" textLength="13.93" lengthAdjust="spacingAndGlyphs">0.8</text>
<line x1="227.20" y1="553.30" x2="230.60" y2="553.30" stroke="#4a4a4a" stroke-width="1.0" />
<text x="206.43" y="556.65" font-size="9.745" font-weight="normal" fill="#222222" stroke="#222222" stroke-width="0.4" textLength="14.26" lengthAdjust="spacingAndGlyphs">1.0</text>
<line x1="227.20" y1="533.90" x2="230.60" y2="533.90" stroke="#4a4a4a" stroke-width="1.0" />
<text x="206.42" y="537.25" font-size="9.745" font-weight="normal" fill="#222222" stroke="#222222" stroke-width="0.4" textLength="14.40" lengthAdjust="spacingAndGlyphs">1.2</text>
<line x1="252.85" y1="553.30" x2="252.85" y2="542.63" stroke="#333" stroke-width="1.05" />
<line x1="250.55" y1="542.63" x2="255.15" y2="542.63" stroke="#333" stroke-width="1.2" />
<rect x="242.50" y="553.30" width="20.70" height="97.00" fill="#808080" stroke="#222" stroke-width="1.0" />
<line x1="297.65" y1="593.07" x2="297.65" y2="590.94" stroke="#333" stroke-width="1.05" />
<line x1="295.35" y1="590.94" x2="299.95" y2="590.94" stroke="#333" stroke-width="1.2" />
<rect x="287.40" y="593.07" width="20.50" height="57.23" fill="#fff" stroke="#222" stroke-width="1.0" />
<line x1="230.60" y1="650.30" x2="319.50" y2="650.30" stroke="#4a4a4a" stroke-width="1.2" />
<line x1="230.60" y1="524.50" x2="230.60" y2="653.30" stroke="#5a5a5a" stroke-width="1.5" />
<line x1="275.60" y1="650.30" x2="275.60" y2="653.50" stroke="#4a4a4a" stroke-width="1.0" />
<line x1="319.50" y1="650.30" x2="319.50" y2="653.50" stroke="#4a4a4a" stroke-width="1.0" />
<polyline points="252.10,536.20 252.10,534.00 297.80,534.00 297.80,536.20" fill="none" stroke="#222" stroke-width="1.1" stroke-linejoin="round" />
<text x="268.80" y="535.87" font-size="10.286" font-weight="normal" fill="#222222" stroke="#222222" stroke-width="0.4" textLength="11.60" lengthAdjust="spacingAndGlyphs">***</text>
<text x="248.72" y="521.15" font-size="10.327" font-weight="normal" fill="#222222" stroke="#222222" stroke-width="0.4" textLength="61.37" lengthAdjust="spacingAndGlyphs">pmiR146aAS</text>
<text x="244.85" y="664.25" font-size="9.745" font-weight="normal" fill="#222222" stroke="#222222" stroke-width="0.4" textLength="16.99" lengthAdjust="spacingAndGlyphs">Ctrl</text>
<text x="288.99" y="664.25" font-size="9.745" font-weight="normal" fill="#222222" stroke="#222222" stroke-width="0.4" textLength="16.91" lengthAdjust="spacingAndGlyphs">Exo</text>
<text transform="translate(199.40,626.00) rotate(-90)" x="0" y="0" font-size="9.455" fill="#222222" stroke="#222222" stroke-width="0.4" textLength="66.31" lengthAdjust="spacingAndGlyphs">RLU ratio (a.u.)</text>
<line x1="367.10" y1="630.90" x2="456.50" y2="630.90" stroke="#7c7c7c" stroke-width="1.0" stroke-dasharray="2,1"/>
<line x1="367.10" y1="611.50" x2="456.50" y2="611.50" stroke="#7c7c7c" stroke-width="1.0" stroke-dasharray="2,1"/>
<line x1="367.10" y1="592.10" x2="456.50" y2="592.10" stroke="#7c7c7c" stroke-width="1.0" stroke-dasharray="2,1"/>
<line x1="367.10" y1="572.70" x2="456.50" y2="572.70" stroke="#7c7c7c" stroke-width="1.0" stroke-dasharray="2,1"/>
<line x1="367.10" y1="553.30" x2="456.50" y2="553.30" stroke="#7c7c7c" stroke-width="1.0" stroke-dasharray="2,1"/>
<line x1="367.10" y1="533.90" x2="456.50" y2="533.90" stroke="#7c7c7c" stroke-width="1.0" stroke-dasharray="2,1"/>
<rect x="367.10" y="524.50" width="89.40" height="125.80" fill="none" stroke="#3e3e3e" stroke-width="1.2" />
<line x1="363.70" y1="650.30" x2="367.10" y2="650.30" stroke="#4a4a4a" stroke-width="1.0" />
<text x="342.80" y="653.65" font-size="9.745" font-weight="normal" fill="#222222" stroke="#222222" stroke-width="0.4" textLength="13.88" lengthAdjust="spacingAndGlyphs">0.0</text>
<line x1="363.70" y1="630.90" x2="367.10" y2="630.90" stroke="#4a4a4a" stroke-width="1.0" />
<text x="342.80" y="634.25" font-size="9.745" font-weight="normal" fill="#222222" stroke="#222222" stroke-width="0.4" textLength="14.01" lengthAdjust="spacingAndGlyphs">0.2</text>
<line x1="363.70" y1="611.50" x2="367.10" y2="611.50" stroke="#4a4a4a" stroke-width="1.0" />
<text x="342.80" y="614.85" font-size="9.745" font-weight="normal" fill="#222222" stroke="#222222" stroke-width="0.4" textLength="13.77" lengthAdjust="spacingAndGlyphs">0.4</text>
<line x1="363.70" y1="592.10" x2="367.10" y2="592.10" stroke="#4a4a4a" stroke-width="1.0" />
<text x="342.80" y="595.45" font-size="9.745" font-weight="normal" fill="#222222" stroke="#222222" stroke-width="0.4" textLength="13.93" lengthAdjust="spacingAndGlyphs">0.6</text>
<line x1="363.70" y1="572.70" x2="367.10" y2="572.70" stroke="#4a4a4a" stroke-width="1.0" />
<text x="342.80" y="576.05" font-size="9.745" font-weight="normal" fill="#222222" stroke="#222222" stroke-width="0.4" textLength="13.93" lengthAdjust="spacingAndGlyphs">0.8</text>
<line x1="363.70" y1="553.30" x2="367.10" y2="553.30" stroke="#4a4a4a" stroke-width="1.0" />
<text x="342.43" y="556.65" font-size="9.745" font-weight="normal" fill="#222222" stroke="#222222" stroke-width="0.4" textLength="14.26" lengthAdjust="spacingAndGlyphs">1.0</text>
<line x1="363.70" y1="533.90" x2="367.10" y2="533.90" stroke="#4a4a4a" stroke-width="1.0" />
<text x="342.42" y="537.25" font-size="9.745" font-weight="normal" fill="#222222" stroke="#222222" stroke-width="0.4" textLength="14.40" lengthAdjust="spacingAndGlyphs">1.2</text>
<line x1="389.30" y1="553.30" x2="389.30" y2="538.75" stroke="#333" stroke-width="1.05" />
<line x1="387.00" y1="538.75" x2="391.60" y2="538.75" stroke="#333" stroke-width="1.2" />
<rect x="379.20" y="553.30" width="20.20" height="97.00" fill="#808080" stroke="#222" stroke-width="1.0" />
<line x1="433.80" y1="595.01" x2="433.80" y2="577.26" stroke="#333" stroke-width="1.05" />
<line x1="431.50" y1="577.26" x2="436.10" y2="577.26" stroke="#333" stroke-width="1.2" />
<rect x="423.70" y="595.01" width="20.20" height="55.29" fill="#fff" stroke="#222" stroke-width="1.0" />
<line x1="367.10" y1="650.30" x2="456.50" y2="650.30" stroke="#4a4a4a" stroke-width="1.2" />
<line x1="367.10" y1="524.50" x2="367.10" y2="653.30" stroke="#5a5a5a" stroke-width="1.5" />
<line x1="411.30" y1="650.30" x2="411.30" y2="653.50" stroke="#4a4a4a" stroke-width="1.0" />
<line x1="456.50" y1="650.30" x2="456.50" y2="653.50" stroke="#4a4a4a" stroke-width="1.0" />
<polyline points="388.70,536.10 388.70,533.90 434.50,533.90 434.50,536.10" fill="none" stroke="#222" stroke-width="1.1" stroke-linejoin="round" />
<text x="409.65" y="535.77" font-size="10.286" font-weight="normal" fill="#222222" stroke="#222222" stroke-width="0.4" textLength="3.89" lengthAdjust="spacingAndGlyphs">*</text>
<text x="385.22" y="521.65" font-size="10.327" font-weight="normal" fill="#222222" stroke="#222222" stroke-width="0.4" textLength="55.86" lengthAdjust="spacingAndGlyphs">pmiR150AS</text>
<text x="381.16" y="664.25" font-size="9.745" font-weight="normal" fill="#222222" stroke="#222222" stroke-width="0.4" textLength="16.88" lengthAdjust="spacingAndGlyphs">Ctrl</text>
<text x="425.83" y="664.25" font-size="9.745" font-weight="normal" fill="#222222" stroke="#222222" stroke-width="0.4" textLength="16.05" lengthAdjust="spacingAndGlyphs">Exo</text>
<text transform="translate(337.70,627.40) rotate(-90)" x="0" y="0" font-size="9.309" fill="#222222" stroke="#222222" stroke-width="0.4" textLength="66.21" lengthAdjust="spacingAndGlyphs">RLU ratio (a.u.)</text>
</svg>
</body></html>
